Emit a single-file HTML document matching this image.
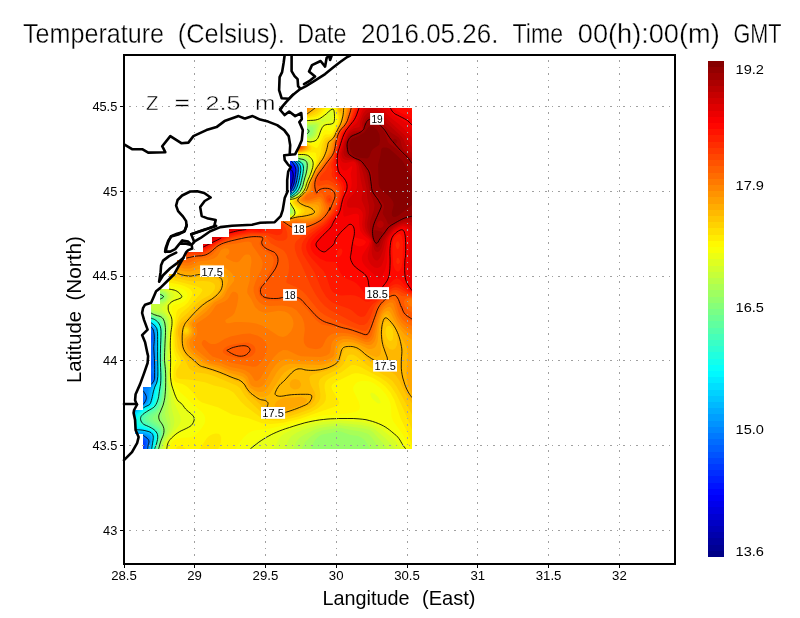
<!DOCTYPE html>
<html><head><meta charset="utf-8"><title>Temperature</title>
<style>html,body{margin:0;padding:0;background:#fff}svg{display:block}text{font-family:"Liberation Sans",sans-serif;fill:#000}</style>
</head><body>
<svg width="800" height="618" viewBox="0 0 800 618">
<rect width="800" height="618" fill="#fff"/>
<defs><clipPath id="cp"><polygon shape-rendering="crispEdges" points="307,108 412,108 412,449 143,449 143,434 135,434 135,410 143,410 143,387 151,387 151,304 160,304 160,289 169,289 169,274 177,274 177,260 186,260 186,252 203,252 203,244 212,244 212,237 229,237 229,229 281,229 281,221 290,221 290,161 298,161 298,146 307,146"/></clipPath></defs>
<g clip-path="url(#cp)">
<g transform="scale(.1)" fill-rule="evenodd"><rect x="1300" y="1000" width="2900" height="3550" fill="#000097"/>
<path fill="#0000a7" d="M1330 1060l2820 0 0 3450-2820 0zM2830 1823l2 17 13 7 4-7-4-15z"/>
<path fill="#0000b7" d="M1330 1060l2820 0 0 3450-2820 0zM2800 1783l-9 27 8 30 12 15 18 15 16 6 15 1 12-7 5-30-17-48-30-17-15 0z"/>
<path fill="#0000c7" d="M1330 1060l2820 0 0 3450-2820 0zM2791 1750l-15 15-8 30 12 45 27 30 23 14 30 6 15-3 15-32-4-60-7-15-19-19-30-16-15-2z"/>
<path fill="#0000d7" d="M1330 1060l2820 0 0 3450-2820 0zM2785 1720l-18 15-16 30-2 30 7 30 19 30 36 30 34 12 30 1 15-13 9-30 5-60-8-30-36-30-30-17-30-3z"/>
<path fill="#0000e7" d="M1330 1060l2820 0 0 3450-2820 0zM2785 1693l-30 21-20 36-3 30 10 45 18 30 40 33 45 16 30 1 12-5 16-30 16-75-2-45-72-53-30-9z"/>
<path fill="#0000f7" d="M1330 1060l2820 0 0 3450-2820 0zM2770 1677l-30 24-19 34-5 45 12 45 32 45 40 27 60 15 30-7 15-23 23-87 5-60-13-34-15 10-6-6 4-15-73-24-30 0z"/>
<path fill="#0008ff" d="M1330 1060l2820 0 0 3450-2798 0-7-23-15-11 0-837 22-119 6-60-5-30-8-15-15-12zM2770 1656l-30 20-15 15-16 29-8 45 4 30 10 30 32 45 42 30 56 16 30 1 15-5 19-27 26-85 7-65-7-59-15-8-30-2-60-22-30 2z"/>
<path fill="#0018ff" d="M1330 1060l2820 0 0 3450-2768 0 6-30-5-15-23-14-30-4 0-699 17-33 14-45 42-255-2-15-11-17-20-13-40-11zM2756 1645l-38 30-25 45-6 45 5 30 11 30 31 45 39 30 57 19 30 2 30-4 17-17 28-75 15-90 0-45-4-15-11-17-45-7-30-22-15-3-45 3z"/>
<path fill="#0028ff" d="M1330 1060l2820 0 0 3450-2747 0 12-45-10-26-30-10-45-2 0-621 38-46 20-45 22-165 32-165-4-15-18-17-32-13-58-9zM2754 1630l-44 31-28 44-7 30-1 30 17 60 31 45 48 36 60 18 30 2 30-5 21-21 25-60 19-105 1-45-6-27-15-16-30-4-16-13-3-15-11-3-60 1z"/>
<path fill="#0038ff" d="M1330 1060l2820 0 0 3450-2731 0 14-60-13-29-30-10-60 0 0-556 27-35 53-45 10-15 15-210 21-105 19-60-8-30-13-15-19-12-30-9-75-10zM2757 1615l-51 30-33 45-10 30-2 30 12 60 15 30 22 30 45 36 60 21 45 3 30-5 15-9 10-16 25-60 21-120 1-30-7-30-20-21-20-9-4-15-12-15-74 0z"/>
<path fill="#0048ff" d="M1330 1060l2820 0 0 3450-2718 0 14-60-4-30-7-9-30-14-75 0 0-438 6-49 17-45 22-26 30-21 60-27 10-16-17-45-6-30 9-75-5-60 19-120 23-60-3-24-11-21-34-30-45-11-75-8zM2727 1615l-47 37-15 23-12 30-3 60 18 60 18 30 24 27 46 33 59 17 45 1 30-4 15-9 14-20 26-60 21-120 2-30-6-30-51-60-21-8-90 1-35 7z"/>
<path fill="#0058ff" d="M1330 1060l2820 0 0 3450-2707 0 15-75 0-15-7-15-22-15-24-7-75 1 0-363 41-21 3-15-13-60 4-30 25-38 30-19 60-21 17-12 11-15 2-12-4-18-26-41-5-19 1-15 18-45 0-15-14-35-4-25 14-60 1-60 19-40 5-20-4-30-7-15-24-32-15-11-45-12-90-11zM2710 1610l-27 20-18 19-16 26-10 30-1 60 12 45 15 30 45 53 30 21 30 14 60 10 64-8 19-15 10-15 27-65 22-130-1-30-6-19-47-56-28-15-45-3-58 3-47 11z"/>
<path fill="#0068ff" d="M1330 1060l2820 0 0 3450-2697 0 15-75-1-30-17-16-30-16-90 0 0-329 65-14 23-15 1-15-33-75 3-30 8-15 23-19 75-33 23-23 8-15-1-32-30-58 26-60-4-30-20-30-2-15 15-45-4-75 15-30 6-30-3-30-11-30-33-39-30-9-120-18zM2704 1600l-24 15-28 30-17 30-9 30-2 30 5 45 26 60 21 30 30 30 52 30 27 8 45 4 45-4 25-8 27-30 29-75 20-120-1-30-10-27-45-51-15-11-30-8-90-2-45 9z"/>
<path fill="#0078ff" d="M1330 1060l2820 0 0 3450-2688 0 20-90-2-19-45-35-15-5-90 1 0-301 75-18 26-13 12-30-9-30-24-45-2-15 4-15 15-15 53-26 30-22 22-27 7-30-7-45-15-30 15-30 3-30-1-30-17-45 8-20 2-25-6-75 16-60-12-67-25-38-20-10-150-25zM2680 1600l-19 15-25 30-15 30-7 30-2 30 6 45 17 45 18 30 25 30 32 27 30 18 30 10 30 6 45-1 45-7 15-7 16-16 17-30 22-60 21-120-1-30-12-30-58-60-50-15-60-3-45 4-45 13z"/>
<path fill="#0087ff" d="M1330 1060l2820 0 0 3450-2679 0 23-105-7-15-52-36-15-4-90 1 0-274 90-28 25-19 15-30 4-30-3-15-27-45 11-15 50-35 30-31 18-24 4-30-5-75 2-90-11-150 12-75-10-75-18-30-15-15-172-34zM2665 1596l-22 19-22 30-13 30-7 30-1 30 7 45 18 45 18 30 52 55 60 32 30 7 45 1 45-6 30-10 29-34 30-75 21-120-1-30-11-30-56-60-27-14-30-6-60-6-45 3-45 11z"/>
<path fill="#0097ff" d="M1330 1060l2820 0 0 3450-2671 0 22-105-6-24-15-13-45-25-105-2 0-250 90-34 37-27 15-30 6-30-6-60 19-30 50-60 9-15 4-30-2-165-8-150 7-75-10-90-24-30-22-11-165-36zM2665 1581l-25 19-25 30-16 30-10 45-1 30 8 45 18 45 18 30 24 30 33 30 36 22 30 12 60 7 60-9 30-10 33-37 30-75 21-120 0-30-11-30-28-25-30-37-30-16-30-8-60-7-45 1-45 9z"/>
<path fill="#00a7ff" d="M1330 1060l2820 0 0 3450-2664 0 22-105-1-15-12-27-30-18-30-11-75 0-30-4 0-225 30-18 75-31 33-26 10-15 8-30 5-75 14-30 50-70 5-35-8-315 5-75-8-90-21-30-22-15-176-44zM2639 1585l-30 30-17 30-11 30-5 45 3 30 11 45 22 45 21 30 27 30 39 30 41 20 30 8 45 2 78-15 25-15 32-45 22-60 21-120 0-30-10-30-33-29-30-36-30-17-45-12-60-7-60 4-45 13z"/>
<path fill="#00b7ff" d="M1330 1060l2820 0 0 3450-2656 0 20-105-1-30-6-15-14-15-58-20-75 0-30-6 0-199 30-22 75-36 45-32 16-45 6-60 8-30 46-75 10-30-7-330 3-75-6-90-20-30-26-20-180-52zM2635 1573l-30 27-20 30-13 30-7 45 3 45 12 45 21 45 21 30 27 30 37 30 39 21 30 10 30 5 45-4 60-13 30-17 34-47 21-60 22-120 0-30-10-30-76-75-36-16-45-11-60-7-45 2-45 11z"/>
<path fill="#00c7ff" d="M1330 1060l2820 0 0 3450-2650 0 21-105 0-30-11-31-24-14-51-14-75-1-30-8 0-169 37-33 109-60 15-15 14-45 15-90 43-75 9-30-9-495-23-36-30-21-180-57zM2620 1568l-30 30-20 32-11 30-6 45 3 45 13 45 22 45 20 30 27 30 42 35 45 24 30 9 30 3 45-5 60-15 30-16 20-20 18-30 21-60 22-120 1-30-10-30-36-30-36-43-30-17-60-18-60-9-60 3-45 12z"/>
<path fill="#00d7ff" d="M1330 1060l2820 0 0 3450-2643 0 20-105 2-45-6-15-13-15-75-22-75-3-15-3-15-11 0-131 17-25 28-25 120-69 19-56 21-105 34-60 9-30-8-495-17-30-28-27-195-70zM2617 1555l-33 30-21 30-12 30-9 45 1 45 10 45 19 45 29 45 42 45 37 28 32 17 43 14 30 3 45-7 60-16 30-16 34-38 25-60 27-135 0-30-9-30-37-30-40-46-30-18-60-20-60-10-60 0-45 10z"/>
<path fill="#00e7ff" d="M1330 1060l2820 0 0 3450-2637 0 25-135 0-15-13-27-27-18-48-12-90-10-17-8-13-22 1-68 10-30 20-30 29-25 60-38 53-27 20-60 22-105 31-60 7-30-6-210 1-270-7-30-22-30-24-20-195-74zM2597 1555l-30 30-18 30-15 45-5 45 5 45 14 45 22 45 35 48 30 30 45 33 45 21 30 8 30 2 45-7 75-24 29-21 31-43 22-62 23-120 1-30-9-30-39-30-28-36-30-24-45-20-60-17-60-7-60 5-45 15z"/>
<path fill="#00f7ff" d="M1330 1060l2820 0 0 3450-2631 0 26-135-3-30-9-15-17-15-21-9-135-31-15-20-2-15 6-60 25-45 76-56 47-19 17-15 20-60 20-105 28-60 6-30-6-195 2-285-7-30-22-34-30-24-195-79zM2577 1555l-26 30-22 45-10 45 0 45 8 45 16 45 26 45 36 45 32 30 45 30 43 19 45 9 45-5 75-24 30-14 18-15 25-30 20-45 27-120 5-45-2-30-6-15-12-12-30-20-30-38-30-24-60-26-60-17-60-6-60 6-45 17z"/>
<path fill="#08fff7" d="M1330 1060l2820 0 0 3450-2625 0 28-135-2-30-8-15-18-18-30-14-110-28-19-15-7-30 3-45 12-30 12-15 64-47 60-27 14-16 21-60 19-105 28-75-6-210 5-285-14-45-21-30-16-13-210-92zM2575 1539l-30 32-25 44-12 45-2 45 6 45 21 60 25 45 36 45 41 37 45 30 45 19 45 8 45-6 90-32 37-26 25-30 20-45 32-150-1-45-8-18-12-12-33-21-30-38-30-23-60-28-60-19-60-8-60 4-45 15z"/>
<path fill="#18ffe7" d="M1330 1060l2820 0 0 3450-2619 0 29-135-1-30-7-15-13-15-29-19-120-40-12-16-6-30 1-30 13-30 19-20 45-32 73-38 12-15 21-60 15-90 23-75 5-30-8-195 6-285-12-45-15-26-19-19-136-60-85-44zM2560 1535l-31 35-23 45-11 45 0 60 15 60 20 45 28 45 40 45 37 32 46 28 44 18 45 7 45-6 90-35 24-14 33-30 30-60 30-135 1-60-5-15-13-15-40-24-30-39-30-23-60-29-75-25-60-7-60 6-45 16z"/>
<path fill="#28ffd7" d="M1330 1060l2820 0 0 3450-2614 0 32-135 0-30-6-15-12-15-25-19-120-47-17-24-4-30 6-30 23-30 52-36 51-24 20-15 32-75 36-195-8-195 7-285-4-30-14-32-15-23-15-12-120-53-105-59zM2551 1525l-28 30-25 45-13 45-3 60 12 60 17 45 36 60 43 48 45 37 45 27 45 18 45 7 45-7 94-40 25-15 33-30 29-60 30-135 2-60-5-15-12-15-46-28-30-39-45-32-75-34-60-18-60-6-45 5-53 17z"/>
<path fill="#38ffc7" d="M1330 1060l2820 0 0 3450-2608 0 5-30 21-60 7-45 1-30-4-15-10-15-22-18-45-25-80-32-12-15-7-30 6-30 18-23 54-37 66-35 9-10 27-60 34-210-10-195 9-300-21-60-29-30-105-45-124-74zM2605 1478l-45 23-43 39-28 45-17 60-2 60 13 60 25 60 29 45 38 45 54 45 52 30 59 20 30 4 30-4 135-62 37-33 29-60 30-135 3-60-9-22-15-14-43-24-32-41-30-23-105-51-60-17-45-5-45 3z"/>
<path fill="#48ffb7" d="M1330 1060l2820 0 0 3450-2602 0 5-30 21-60 11-75-3-15-12-19-30-24-45-26-60-25-15-13-10-28 7-30 12-15 66-45 55-30 37-75 29-195-10-210 10-300-18-60-24-30-130-60-114-76zM2527 1510l-37 45-21 45-10 45-1 60 13 60 26 60 40 60 43 45 55 43 45 24 45 17 45 6 45-8 60-34 45-17 57-46 28-60 28-120 6-75-12-30-55-30-37-45-45-32-75-39-75-25-60-6-60 7-50 20z"/>
<path fill="#58ffa7" d="M1330 1060l2820 0 0 3450-2595 0 4-30 21-60 13-60-1-30-18-30-18-15-108-60-15-15-4-30 7-15 57-45 62-35 17-25 26-60 25-195-11-210 12-300-16-60-20-30-23-15-103-45-47-30-85-65zM2590 1456l-45 23-38 31-25 30-23 45-12 45-3 45 4 45 17 60 30 60 31 45 42 45 52 41 45 27 60 23 45 7 45-9 60-38 52-21 55-45 28-60 28-120 7-60-2-30-18-24-48-21-27-33-30-28-60-38-60-31-45-16-60-12-60 3z"/>
<path fill="#68ff97" d="M1330 1060l2820 0 0 3450-2589 0 5-30 35-120 2-30-5-15-13-22-15-13-108-70-9-15 1-15 8-15 33-29 71-46 19-30 24-60 15-105 7-90-13-210 13-300-14-60-17-32-17-13-75-30-53-30-125-100zM2575 1448l-45 24-30 24-35 44-21 45-10 45-3 45 5 45 18 60 30 60 31 45 42 45 56 45 52 30 60 23 45 7 45-7 50-38 70-32 39-28 13-15 28-60 29-120 8-75-8-30-17-15-47-17-45-51-45-33-75-44-45-20-45-13-60-6-45 4z"/>
<path fill="#78ff87" d="M1330 1060l2820 0 0 3450-2582 0 4-30 41-135-1-30-12-26-15-17-88-62-11-15 0-15 21-30 48-33 26-27 30-60 9-30 14-105 5-90-3-105-11-105 14-300-16-75-21-30-77-31-53-29-40-30-102-93zM2575 1434l-45 21-45 36-28 34-23 45-12 45-3 60 9 60 14 45 30 60 32 45 41 45 55 45 50 31 60 25 60 12 45-5 56-48 64-28 45-32 12-15 28-60 30-120 9-75-6-30-13-16-60-22-33-37-42-35-75-49-60-30-45-15-60-7-45 3z"/>
<path fill="#87ff78" d="M1330 1060l2820 0 0 3450-2574 0 4-30 44-135 1-30-16-45-24-24-49-36-10-15-2-15 7-15 39-37 27-38 27-60 9-45 12-90 0-195-12-105 13-315-12-60-19-34-17-11-83-30-47-30-138-134zM2545 1431l-45 27-39 37-30 45-17 45-8 45 1 60 13 60 17 45 34 60 34 45 44 45 56 42 60 34 60 21 60 10 30-3 15-7 47-52 58-25 45-30 17-20 23-45 35-135 11-75-3-30-8-15-15-10-60-18-44-47-121-85-60-29-45-14-60-5-60 8zM1594 2965l6 13 15 5 7-3 7-15-14-11z"/>
<path fill="#97ff68" d="M1330 1060l2820 0 0 3450-2566 0 3-30 23-75 30-75-10-73-55-62-6-15 38-75 31-75 17-120 0-210-14-105 14-315-14-75-21-30-20-11-65-19-50-30-33-30-77-91-45-42zM3070 1288l-13 12-3 15 16 22 15 2 10-9 3-30-13-14zM2534 1420l-49 30-32 30-31 45-19 45-9 45-1 60 10 60 22 60 34 60 34 45 44 45 58 45 55 31 60 24 75 16 45-1 15-16 21-39 16-15 53-22 57-38 34-60 14-64 23-71 11-75-4-36-19-24-56-11-15-8-40-41-125-93-60-32-45-14-60-7-60 7zM2875 2095l6 15 9 6 15-1 0-13-15-11zM1576 2965l9 19 30 11 15-4 11-11 3-15-7-15-22-10-30 9z"/>
<path fill="#a7ff58" d="M1330 1060l2820 0 0 3450-437 0-52-90-21-24-28-21-33-15-74-11-105-36-180 31-27 16-32 30-21 30-19 45-10 45-1517 0 2-30 19-68 33-67 8-30-1-60-30-60-8-30 7-45 31-105 11-105-3-210-13-105 15-315-11-75-16-30-23-19-60-14-30-14-30-20-36-38-64-90-65-59zM3085 1265l-18 5-19 15-7 15 0 15 14 27 15 13 15 5 15-2 18-13 12-30 3-30-7-15-11-4zM2515 1413l-45 29-37 38-28 45-21 60-6 60 6 60 17 60 28 60 29 45 37 45 47 45 48 35 45 27 60 26 135 33 51 44 24 4 7-4 5-15-4-15-8-10-39-20-8-15 5-30 24-30 48-18 60-39 30-48 49-165 10-75-7-30-22-23-60-9-15-9-45-43-105-82-45-30-45-21-60-14-60-1-60 11zM1557 2950l-3 15 4 15 15 15 27 11 30-1 15-10 10-15 2-15-4-15-23-20-15-3-30 3-15 7z"/>
<path fill="#b7ff48" d="M1330 1060l2820 0 0 3450-338 0-94-135-30-30-18-11-61-19-89-12-120-25-180 27-61 25-62 45-46 45-25 45-15 45-1407 0 1-30 10-39 15-41 38-70 12-60-2-30-24-75-4-30 21-120 6-105-6-105 1-105-12-105 14-330-8-60-21-41-30-22-60-14-48-28-27-30-34-75-20-30-33-30-63-47zM3145 1249l-60 1-30 10-15 13-11 27 1 15 15 30 25 24 15 6 16 0 27-15 11-15 19-75-3-15zM2497 1405l-43 30-41 45-26 45-18 60-5 60 7 60 17 60 29 60 40 60 40 45 48 42 46 33 89 45 135 40 49 35 26 12 15 1 15-6 5-7-5-34-48-41-4-15 2-15 7-15 16-15 42-15 60-37 35-53 20-75 32-90 13-75-8-30-17-23-15-10-60-6-15-8-165-139-75-42-60-16-60-2-60 10zM1523 2950l-1 15 5 15 13 15 30 19 30 9 30-4 15-8 16-16 10-30-3-15-10-15-20-15-23-8-30-1-30 8-23 16z"/>
<path fill="#c7ff38" d="M1330 1060l2820 0 0 3450-258 0-45-60-117-127-30-22-75-18-225-31-150 18-60 12-51 18-94 45-46 30-28 30-24 45-19 60-1312 0 0-30 14-53 55-97 16-45 5-30-3-45-20-90 6-210-10-105 1-105-10-105 14-360-9-45-15-28-15-17-30-21-60-17-30-16-20-21-8-30 13-17 15 0 60 19 15 1 30-7 34-26 19-30 3-15-2-15-8-15-15-15-46-24-60-2-75 24-30 0-45-18-75-45zM3160 1234l-90 6-30 14-14 16-9 30 8 30 15 22 30 29 15 7 15 1 30-13 16-16 14-30 18-75-5-15zM2485 1393l-55 42-35 43-25 47-16 60-4 60 8 60 18 60 29 60 40 60 40 45 50 45 55 38 90 44 135 45 62 38 28 5 21-5 8-15-13-45-37-30-7-15-1-15 6-15 18-15 35-11 60-36 14-13 27-45 20-75 35-90 14-75-7-30-22-30-21-13-60-3-15-8-165-143-45-30-45-19-60-13-60 0-60 11z"/>
<path fill="#d7ff28" d="M1330 1060l2820 0 0 3450-187 0-53-71-65-64-88-75-53-30-94-20-210-21-150 14-75 13-147 44-63 27-48 33-26 30-15 30-27 90-1218 0 1-45 13-42 70-108 19-45 10-45-4-45-23-90-16-195-14-90 1-105-6-135 13-345-5-30-14-30-54-60-8-15 5-15 41-37 32-38 13-30-1-15-7-15-14-15-38-27-30-13-45-9-120 2-45-13-75-37zM3213 1210l7 6 15-5 7-16-22-4zM3190 1225l-45-4-75 6-30 12-19 16-15 30 3 30 15 30 46 48 15 7 30-2 30-17 15-17 39-124zM2470 1383l-49 37-38 45-30 60-15 60-2 60 8 60 25 75 32 60 44 60 43 45 54 45 63 40 75 35 120 40 75 41 30 6 30-9 9-18-16-45-33-30-9-15-3-15 4-15 18-14 30-9 64-37 15-15 28-45 20-75 38-90 14-60 1-30-14-30-28-30-18-8-60 0-15-7-72-60-108-100-45-28-30-12-60-13-75 1-60 13z"/>
<path fill="#e7ff18" d="M1330 1060l2820 0 0 3450-125 0-63-90-27-30-112-90-93-52-120-29-210-13-150 10-135 21-118 33-81 30-62 30-42 30-24 30-38 75-51 45-1050 0 0-45 15-45 26-39 100-126 19-45-5-45-60-135-49-225-2-360 5-105 12-105-8-60-38-60-11-30 10-30 65-75 9-15 2-15-6-15-18-15-100-59-45-12-135-14-45-15-60-29zM3325 1126l-15-7-30 4-20 42-10 6-30 6-30 27-15 6-105 6-45 19-20 20-11 30 4 30 17 30 40 45 30 20 30 0 43-20 19-30 24-75 19-37 30-21 56-17 13-15 8-30zM2455 1373l-45 34-45 55-24 48-17 60-4 60 10 75 26 75 33 60 44 60 42 45 53 45 62 41 75 36 135 47 75 38 30 5 30-5 15-12 5-15-21-45-40-45-4-15 3-15 112-60 42-60 15-60 40-90 21-75 4-30-12-30-45-44-30-4-45 3-15-6-67-54-113-114-30-20-45-20-60-13-75-1-75 17z"/>
<path fill="#f7ff08" d="M1330 1060l2820 0 0 3450-79 0-86-146-135-109-120-51-135-25-195 1-150 7-150 22-150 43-150 48-112 45-108 60-65 51-26 24-20 30-796 0-3-30 4-30 13-30 18-27 75-62 105-43 45-26 15-22 13-30 3-30-16-30-75-61-45-59-45-31-30-59-45-135 5-210-6-150 4-105 16-105-4-60-37-75 0-30 7-19 30-32 15-8 64-16 26-12 9-18-3-15-13-15-47-30-81-20-45-31-30-14-45-13-135-25-105-42zM3333 1090l-8-6-15 2-45 32-16 32-74 47-120 11-30 13-24 19-18 30-2 15 6 30 18 30 57 60 23 14 15 4 60-13 15-14 12-21 32-90 16-24 15-11 15-2 45 12 15-6 15-20 9-39-7-90zM2443 1360l-48 37-43 53-30 60-14 60-3 60 11 75 27 75 33 60 44 60 50 53 60 49 60 37 60 30 135 48 90 41 30 4 36-7 20-15 6-15-25-45-39-45-5-15 2-15 80-40 30-20 42-60 16-60 41-90 27-90 0-30-6-16-41-44-19-10-75 4-30-15-61-54-89-102-45-33-45-19-75-15-75 2-75 19zM3715 3926l-13 14 10 30 18 25 45 38 15 3 15-6 0-15-24-45-36-32z"/>
<path fill="#fff700" d="M1330 1060l2820 0 0 3450-40 0-80-166-99-134-17-45-3-90-8-45-19-45-27-45-52-57-63-48-42-20-60-8-30 3-32 10-22 15-21 30-4 15 4 30 51 105 14 45-5 30-14 15-31 15-75 16-240 16-135 29-105 34-195 48-90 19-180 25-45 22-45 42-52 64-45 75-639 0-3-30 4-30 15-28 18-17 57-26 90-4 30-5 30-16 30-25 39-44 29-45 9-30 0-30-10-30-22-30-89-75-61-63-60-51-45-50-30-41-15-32-3-18 3-105 11-90-14-135 1-105 19-120 2-60-23-90 4-17 15-15 75-20 38-23 13-15 13-30 2-15-6-23-15-19-15-11-45-20-90-16-105-50-165-39-105-42zM3340 1073l-15-10-15-1-15 6-39 37-21 33-60 43-120 16-30 11-27 17-18 20-12 25 1 30 14 30 72 77 30 20 30 8 30 1 30-11 16-20 44-94 15-11 15 1 30 11 15-2 15-13 30-52 10-35 0-30-12-75zM2440 1341l-60 46-40 48-31 60-16 60-4 60 10 75 24 75 40 75 44 60 58 60 56 45 69 43 75 35 105 36 105 45 45 2 30-11 23-15 7-15-5-15-63-75-6-15 3-15 26-10 80-50 42-60 16-60 42-90 30-90 4-30-6-30-13-17-45-30-30-2-60 7-30-14-55-49-95-120-30-24-45-21-75-18-75-2-75 14z"/>
<path fill="#ffe700" d="M1330 1060l1940 0-60 75-35 26-30 10-90 15-45 17-30 20-15 17-14 30 2 30 30 45 87 82 90 52 15-5 60-114 15-14 45 0 15-5 15-13 45-86 9-32 0-30-24-104-8-16 803 0 0 3441-30-51-45-125-71-145-60-180-41-75-50-60-55-45-68-40-90-35-60-12-30 0-30 7-163 80-32 22-11 23 7 30 70 120 1 15-7 15-19 15-371 130-165 38-120 13-90-8-135-50-165-39-136-69-164-51-37-24-67-90-47-45-44-26-60-13-15-10-15-26-1-75 8-45 27-60 1-15-20-45-15-60-5-135 35-235 15-27 60-34 38-34 37-60 9-30-2-15-22-30-57-30-49-15-89-17-105-42-180-49-90-38zM2425 1329l-60 46-37 45-32 60-20 75-2 75 14 75 28 75 43 75 47 60 64 62 75 54 75 41 255 97 30 3 30-5 49-27 9-15 0-15-60-60-17-30 8-15 71-41 24-19 42-60 16-60 43-90 39-105 7-45-6-52-15-8-75 1-60 10-30-3-30-20-34-33-34-45-37-63-30-35-45-28-45-16-75-14-75 1-75 15zM2200 4347l12 28-2 45-15 45-28 45-200 0 38-31 60-95 25-24 35-17 30-8 30 2zM1762 4480l18-20 30-1 84 51-130 0z"/>
<path fill="#ffd700" d="M1330 1060l1912 0-37 47-30 28-30 16-105 28-45 18-38 28-12 15-14 30 2 30 20 30 156 135 6 15-2 15-17 15-86 21-30-4-30-19-41-43-27-45-33-75-29-30-35-20-60-20-45-9-60-5-60 3-60 12-60 23-45 27-42 34-33 38-30 49-19 48-10 45-5 60 6 60 11 45 22 60 22 45 39 60 37 45 79 75 103 68 90 42 195 71 30 6 45-6 64-31 12-15 4-15-7-15-60-45-15-15-5-15 29-30 67-45 41-60 17-60 43-90 74-180 20-105 16-45 15-22 13-8 47-12 15-12 57-111 9-30 1-30-22-72-8-48 788 0 0 3331-52-151-85-195-52-105-50-75-44-45-66-45-191-102-60-24-30 1-15 6-90 66-107 53-42 30-11 15-9 30 0 30 14 75-3 45-16 30-15 15-51 39-60 33-132 48-108 28-75 11-60 2-60-5-45-13-30-15-151-113-46-45-72-90-51-30-55-19-90-21-90-32-165-28-90-6-28-14-9-30 6-45 40-60 7-30-9-30-37-63-15-62-5-130 20-91 20-59 25-43 75-63 121-134 18-30-6-15-13-9-51-21-249-65-105-35-135-38-135-53z"/>
<path fill="#ffc700" d="M1330 1060l1885 0-40 44-46 31-44 20-82 25-38 20-45 40-25 45-3 15 7 15 96 61 98 89 3 15-5 15-25 15-71 16-30-12-24-19-25-30-18-30-15-45-7-75-20-15-56-23-60-18-60-11-60-5-75 5-60 13-59 24-46 27-45 38-34 40-27 45-23 60-9 45-3 60 7 60 16 60 25 60 25 45 41 60 39 45 93 82 105 63 90 39 180 63 30 5 45-7 56-20 32-15 18-15 7-15-6-15-17-15-75-45-7-15 21-30 61-41 37-49 23-71 39-79 21-55 77-140 28-135 15-20 60-32 15-22 52-106 10-30 3-45-28-60 0-45 773 0 0 3157-36-82-144-263-45-62-45-36-204-119-111-91-30-17-30-3-15 5-15 12-39 79-36 38-45 28-117 54-36 30-9 15-7 30 18 105-2 45-13 30-40 45-49 30-120 45-90 28-60 11-60 1-60-7-45-12-39-21-141-134-39-46-47-75-34-25-227-95-73-22-105-16-45-19-23-18-37-75-60-95-17-40-18-135 3-45 8-30 18-45 21-32 75-69 75-79 60-48 75-40 30-26 23-36 3-30-6-15-14-15-36-14-60-5-120 1-75-13-360-100-75-26-75-34zM3880 3260l-15 9-5 11-5 30 3 30 7 27 15 29 15 13 15 2 14-11 6-15 3-45-8-51-15-20-15-8zM1855 3282l-15 12-1 16 16 18 15-3 9-15-2-15-7-9z"/>
<path fill="#ffb700" d="M1330 1060l1858 0-31 30-61 45-26 13-99 32-111 72-45 1-120-22-90-6-90 9-90 29-75 47-51 50-40 60-28 75-7 45-2 60 8 60 16 60 26 60 25 45 42 60 39 45 92 82 105 65 105 45 180 60 30 6 165-41 52-22 8-13-10-17-65-28-75-42-4-5 0-15 11-15 61-45 42-60 11-45 61-135 92-150 33-135 53-38 15-19 35-78 27-45 11-30 7-60-7-15-13-8-15-22 0-21 9-24 756 0 0 3023-90-141-67-137-38-55-30-22-90-31-50-27-100-67-105-96-45-19-60-2-30 11-15 25-30 103-15 18-60 37-60 24-136 41-27 15-7 15-1 15 9 45 12 30 30 52 11 38-10 45-34 45-27 16-150 58-75 22-30 4-45-3-60-11-45-15-30-18-47-53-118-106-22-29-38-67-15-16-90-33-150-65-90-30-90-20-15-10-45-47-75-65-47-82-13-75-15-54 0-49 15-43 15-23 60-49 123-127 59-45 60-30 53-45 37-60 1-45-3-15-15-21-60-26-120-2-105 14-60-10-75-24-120-28-150-43-90-32-75-34zM3865 3211l-15 6-16 33-8 75 9 66 11 39 19 32 30 28 30 7 15-4 15-12 15-32 5-49-9-60-16-45-25-42-30-27zM1855 3266l-22 14-7 30 2 15 10 15 17 8 15-3 15-11 10-24-10-30-15-13zM2905 1365l15-9 15 0 30 10 45 29 71 70 2 15-9 15-28 15-36 10-30-3-15-8-32-29-27-45-8-45z"/>
<path fill="#ffa700" d="M1330 1060l1831 0-91 74-100 31-95 48-30 10-45 2-135-17-75-2-90 11-75 24-75 42-60 55-47 67-28 75-9 45-3 60 7 60 15 60 24 60 33 60 42 60 39 45 46 45 56 45 110 67 120 49 165 53 30 5 75-19 90-7 64-13 26-10 15-20 1-30-16-20-105-25-45-23-21-22 7-15 44-32 48-58 9-15 16-60 62-132 94-138 23-60 12-60 51-58 33-77 38-60 12-30 14-60 10-75-4-15 707 0 0 2914-36-49-34-75-10-45-6-75 15-180-9-75-96-180-71-105-23-41-15-6-15 5-10 12-27 75-10 105 8 165-6 35-15 22-30 7-45-13-45-24-75-56-60-23-60-5-45 9-15 11-12 22-10 60-22 60-31 25-45 23-75 22-90 6-150-15-45 7-45 18-45 29-30 32-117 183-33 22-30 8-45-5-45-23-45-30-34-47-26-53-15-16-120-40-120-52-165-52-22-12-124-105-33-60-7-30 5-45 6-15 42-30 21-30-1-30-32-60 4-15 51-62 75-73 72-60 90-60 32-30 35-60 8-75-12-27-19-18-86-31-120 1-105 23-60-6-75-24-120-27-135-39-90-32-90-41zM3400 1084l15-2 8 8-1 15-7 5-15-1-3-19zM2920 1381l15-8 15 0 45 19 66 58 10 15 0 15-16 17-45 17-30-2-15-8-26-24-25-45-4-30zM2950 3790l30 7 15 11 15 27 1 15-5 15-12 15-14 9-30 6-15-2-22-13-12-15-5-30 16-30 23-13zM3070 4000l-4 15-13 15-28 18-165 57-30 2-30-7-30-15-22-25 0-15 17-30 35-23 45-17 90-1 75-7 52 18z"/>
<path fill="#ff9700" d="M1330 1060l1807 0-68 60-104 32-120 44-60 4-135-13-75 0-90 13-75 25-78 45-64 60-49 75-26 75-8 60 1 60 9 60 19 60 26 60 36 60 45 60 41 45 93 80 60 39 60 33 120 48 195 56 75-19 90 2 60-8 45-19 26-32 5-15 1-30-5-15-12-16-15-4-105-4-45-19-21-17 5-15 35-30 53-60 18-66 60-128 90-122 33-59 13-30 13-60 39-60 30-75 51-75 31-116 3-49 687 0 0 2389-30-49-75-56-75-95-34-59-26-56-15-19-15-7-15 2-30 22-15 25-15 43-11 50-18 165-16 44-15 19-30 13-30-2-105-48-45-16-60-7-45 5-30 16-16 21-9 30-5 60-15 33-30 27-30 15-60 19-45 5-285-11-45 9-30 14-30 23-30 35-75 131-30 42-30 22-30 7-30-4-30-11-45-29-19-27-26-60-30-26-120-34-120-52-105-27-60-32-105-83-36-46-12-30-4-30 8-30 41-45 13-30-3-30-20-45-2-15 6-15 39-44 152-136 43-35 60-38 17-17 28-45 35-90 0-30-12-30-30-30-38-20-45-13-60-11-60 0-45 8-90 27-60-3-315-83-105-39-90-42zM2935 1390l30-3 45 22 42 41 9 15-2 15-14 15-35 14-30-3-15-8-31-33-12-30 2-30z"/>
<path fill="#ff8700" d="M1330 1060l1786 0-31 33-30 19-210 59-60 5-150-10-75 2-90 14-75 26-80 47-64 60-49 75-19 45-11 45-8 60 3 60 10 60 19 60 28 60 36 60 45 60 41 45 48 45 58 45 63 40 60 32 120 47 195 55 75-19 90 11 60-8 55-23 18-15 20-30 10-45-13-48-15-18-75 14-45 2-45-13-18-12-1-15 64-67 28-23 7-60 56-120 111-150 28-45 12-30 12-60 31-62 21-58 62-90 31-105 8-60 673 0 0 2307-90-57-45-42-45-63-45-104-15-25-15-9-15 2-30 17-15 15-26 44-28 90-25 150-12 30-14 18-15 11-15 6-30 0-150-54-45-7-45 2-45 19-20 20-17 45-5 75-18 22-45 24-45 13-45 6-105-5-90 3-105-25-30 1-30 8-45 25-30 29-45 64-64 120-26 28-30 12-45-4-30-15-15-20-21-61-11-15-28-22-45-17-90-18-105-46-105-23-41-24-100-75-41-45-15-30-6-30 7-30 37-45 9-30-4-30-20-45 2-15 22-27 120-96 79-87 71-38 25-22 37-75 59-75 7-15-2-30-17-30-34-34-45-31-45-16-90-17-75-1-45 9-90 35-60 0-306-80-99-37-105-50zM2935 1411l15-12 15-2 30 10 30 23 18 20 8 15-3 15-17 15-21 8-15 1-26-9-18-15-17-30-3-15z"/>
<path fill="#ff7800" d="M1330 1060l1766 0-26 27-30 14-180 44-75 7-150-7-90 3-90 16-90 33-45 26-45 34-42 43-33 45-24 45-16 45-11 45-5 60 3 60 16 75 22 60 30 60 39 60 48 60 59 60 64 53 120 74 75 35 90 32 120 29 60 20 75-18 90 18 60-8 59-25 36-30 28-45 4-15-4-30-18-51-15-22-15-4-75 23-45 5-41-11-8-15 49-56 31-19 11-15 2-60 56-120 140-188 15-37 15-75 41-105 67-90 28-90 14-75 660 0 0 2259-75-39-60-52-42-68-39-120-9-12-15-4-15 2-30 16-30 27-30 47-36 104-33 150-17 30-19 15-15 5-30 0-105-42-60-15-60-3-45 8-33 17-27 30-12 30-8 60-11 30-29 19-60 15-195-6-37-13-98-48-45-2-45 24-45 46-51 70-84 142-26 23-19 5-15-7-25-43-25-30-40-26-45-15-105-19-105-42-90-17-27-16-108-87-30-34-15-44 3-15 28-45 11-30 1-30-15-60 8-15 91-60 37-30 25-30 36-56 15-14 75-30 28-20 13-15 24-45 15-15 10-3 20 3 19 15 7 15 2 30-13 75-25 75-25 31-60 33-8 11 8 22 15 6 15 0 60-12 60-2 90 6 60 11 60 20 45 23 120 81 45 10 30-9 15-10 37-41 19-45 4-30-4-30-11-30-23-30-22-17-28-13-62-8-105 17-45 0-45-16-40-38-36-75-39-60-3-15 2-30 24-90 4-105 13-75-4-45-11-22-13-8-29 0-18 10-45 54-15 10-15 3-30-5-58-27-19-15 0-15 23-15 9-12 4-18-3-15-14-15-32-3-35 18-36 60-34 26-60 17-90 10-75 37-45 8-60-8-255-66-120-45-105-53zM2944 1420l21-12 15 1 30 15 25 26 6 15-4 15-21 15-21 4-30-13-18-21-6-15z"/>
<path fill="#ff6800" d="M1330 1060l1744 0-19 17-30 12-165 33-75 7-165-7-90 5-90 17-90 35-45 26-47 35-43 44-30 40-28 51-17 45-11 45-7 60 2 60 15 75 21 60 37 75 39 60 49 60 58 60 67 56 60 41 75 41 150 62 135 31 60 23 30-2 45-10 60 19 30 3 75-16 60-30 28-23 45-60 5-15-7-30-34-75-22-21-30 2-90 28-30-3-10-6 3-15 22-25 45-27 6-8 5-15-3-45 7-30 41-90 138-180 27-60 12-75 37-104 15-23 49-53 8-15 28-90 17-75 648 0 0 2214-75-34-45-38-30-42-13-30-30-105-8-15-19-15-20-1-45 19-43 42-17 22-38 98-51 180-16 26-15 10-15 3-30-4-90-39-75-19-60-5-60 3-45 15-33 25-21 30-28 60-23 22-45 10-60-9-21-8-21-15-18-30-3-45 11-90-6-60-14-45-16-30-47-57-45-28-60-16-45-3-120 4-60-10-45-28-31-42-22-60-1-45 20-60 64-135 8-45-6-30-15-30-83-120-11-30-28-9-30 1-105 21-105 11-60 30-60 65-45 28-30 9-90 9-52 30-23 7-45-2-60-10-195-49-135-50-120-62zM4090 2998l-12 12-3 15 5 15 10 15 15 10 15 3 15-3 10-10 4-15-12-30-21-15-11-2zM2950 1433l15-15 30 4 31 28 6 15-6 15-16 10-15 3-15-3-15-10-11-15-5-15zM2671 3490l-17 60-24 45-25 35-30 28-15 7-30 3-210-37-195-66-34-30-52-60-19-27-3-18 6-15 12-14 15-1 38 30 22 10 45 0 30-13 60-38 60-24 120-26 75-3 74 19 50 30 35 45 10 30z"/>
<path fill="#ff5800" d="M1330 1060l1712 0-62 19-150 23-225-2-105 8-90 20-75 31-45 26-53 40-44 45-32 45-25 45-22 60-10 45-5 60 4 60 16 75 21 60 30 60 38 60 46 60 56 60 68 60 62 45 60 37 135 62 90 31 105 19 75 40 60 2 30 11 30 2 45-7 60-21 75-39 21-17 64-75 7-30-4-15-38-45-20-63-15-24-15-1-45 18-20-5 6-45-6-45 6-45 36-75 143-188 20-52 15-90 31-90 69-77 35-103 19-75 636 0 0 1935-30-15-42 0-28 15-10 15-3 15 14 45 24 28 45 26 30 2 0 93-30-6-30-14-30-21-30-30-30-70-23-83-19-30-18-9-82 39-68 70-90 258-15 32-15 10-15-1-75-34-90-29-270-56-30-19-30-27-98-114-52-55-30-22-30-8-90-5-90 10-90-2-45-11-30-22-12-20-9-45 3-30 67-90 58-90 20-45 6-45-6-30-8-15-15-15-74-47-30-35-9-23 1-15 14-30-6-16-105-5-240 52-90 42-45 46-60 41-60 12-60 2-60 19-30 4-45-2-60-8-165-43-135-53-120-65zM2962 1435l18-8 15 4 15 10 12 24-8 15-19 6-20-6-13-15-4-15zM2555 3490l-3 30-22 30-30 20-45 12-75 1-105-29-35-19-11-15-1-15 17-26 32-19 51-15 127-21 30 3 39 18 21 20z"/>
<path fill="#ff4800" d="M1330 1060l1638 0-153 19-210-3-90 5-105 22-90 35-60 36-45 36-43 45-33 45-25 45-22 60-13 60-4 60 5 60 13 60 20 60 29 60 36 60 45 60 100 105 102 79 135 75 150 59 120 23 42 34 48 55 15 10 30 7 45-12 135-66 75-43 82-86 53-103 12-47 1-45-8-30-20-27-30-20-30-8-30 1-60 14-15-4-8-16-5-30 28-64 47-56 88-123 28-72 15-90 29-90 70-75 29-75 30-105 624 0 0 1918-45-13-90-6-36-24-24-10-30 5-75 51-75 73-60 163-30 63-15 19-15 10-30-2-208-72-167-82-45-34-35-34-115-142-30-30-45-32-112-51-6-15 24-90 5-60-6-60-20-60-20-30-16-15-119-65-43-55-19-15-43-8-90-3-165 32-105 31-75 36-60 52-60 37-45 11-60-3-105 13-45-1-60-9-150-41-135-57-120-68zM2980 1438l15 2 15 17 0 12-15 11-15-5-9-10-3-15zM3280 1952l15-1 15 9 11 15 4 15-9 30-21 11-21-11-12-30 3-24z"/>
<path fill="#ff3800" d="M1330 1060l1155 0-105 25-105 48-84 62-65 75-28 45-20 45-23 90-4 90 19 105 35 90 43 75 68 90 72 75 62 54 60 45 120 69 165 70 45 12 60 8 30 11 24 31 17 45 4 45-4 15-11 14-30 13-45 0-30-8-75-43-30-10-150-4-150 29-90 28-90 43-75 55-60 34-30 8-60-5-120 4-105-14-135-40-132-59-123-73zM4150 1060l0 1904-105-26-75-37-30 0-15 5-30 20-134 114-20 30-41 110-30 50-30 21-45-1-69-30-226-120-50-38-49-52-42-60-50-90-93-210-46-90-19-60-4-30 2-30 15-30 70-60 62-45 143-90 71-77 45-76 16-42 15-75-3-45-12-30-31-35-45-30-30-6-60 11-10-15 10-32 52-58 39-75 37-60 27-75 16-90 24-81 75-84 32-75 31-105zM2995 1455l3 10-13 0zM3295 1981l10 9-2 15-8 5-8-5-4-15z"/>
<path fill="#ff2800" d="M1330 1060l1041 0-96 41-75 49-75 73-51 77-36 90-14 90 5 90 22 90 39 90 57 90 76 90 77 75 110 84 105 61 195 87 97 23 14 15 5 15-1 30-10 17-15 11-30 5-90-23-90 1-75-4-165 29-75 24-105 52-120 77-30 11-30 3-195-11-60-10-75-20-75-27-90-41-88-49-77-50zM4150 1060l0 1892-75-22-90-53-30-4-30 8-30 20-75 71-92 68-25 30-48 82-15 13-30 6-30-13-60-52-30-18-120-42-45-22-38-29-28-30-45-75-68-165-115-180-17-60 5-45 23-45 41-45 152-110 26-25 76-90 33-64 27-101 5-60-7-30-10-20-66-85-3-30 7-30-10-30-1-30 28-67 22-68 44-180 8-15 46-46 22-29 36-75 34-105z"/>
<path fill="#ff1800" d="M1330 1060l963 0-81 45-72 58-55 62-46 75-28 75-15 90 3 90 21 90 38 90 45 75 58 75 85 90 86 75 78 56 90 52 119 57 52 30 33 30-4 15-94 30-91-7-150 26-60 16-150 75-105 63-30 12-30 3-195-19-60-12-75-22-77-30-91-45-76-45-86-59zM3566 1060l584 0 0 1879-61-19-89-69-30-10-30 4-30 16-30 25-40 49-35 30-75 38-45 15-30-3-60-43-45-17-45-4-90 3-45-9-42-25-22-30-46-135-24-45-121-127-30-41-19-42-5-30 4-30 21-45 41-45 138-112 79-98 33-60 37-135 7-60-14-45-45-60-14-30-3-45-10-45 0-30 80-299 60-68 42-68 14-30zM3970 2412l-13 28-1 15 14 38 15-4 12-34 0-15-12-26zM3970 2581l-8 39 8 18 15 3 15-21-2-15-13-25z"/>
<path fill="#ff0800" d="M1330 1060l897 0-72 48-62 57-57 75-38 75-23 75-10 90 5 75 23 90 32 75 44 75 56 75 68 75 97 89 90 70 90 56 155 85 13 15 3 15-10 15-26 15-60-9-30 1-150 28-60 15-30 13-225 125-30 11-30 3-195-26-75-19-66-22-84-37-75-40-90-58-75-56zM3582 1060l458 0 110 65 0 1801-30-5-26-16-94-108-30-15-30 14-60 56-30 34-31 49-14 12-30 13-45 11-30 0-15-5-38-31-52-70-30-31-30-18-75-30-30-22-28-39-47-103-15-5-75-3-60-24-60-48-22-27-14-30-3-45 13-30 39-45 122-111 93-129 14-30 27-105 24-75 4-45-14-45-46-60-15-30-14-90 13-105 61-210 51-60 53-75 14-30zM4000 2340l-15 1-15 7-31 32-10 30-6 90 9 150 17 45 21 21 15-2 15-14 15-29 10-51 5-195-15-70zM3415 2488l-15-3-21 15-12 30 3 36 15 6 15-10 15-18 10-29-2-15z"/>
<path fill="#f70000" d="M1330 1060l836 0-71 57-59 63-40 60-35 75-21 75-8 75 5 75 21 90 31 75 43 75 55 75 67 75 151 137 90 67 126 81 37 30 8 15-96 32-105 17-75 22-78 49-162 82-30 11-30 3-195-33-75-22-68-26-82-40-85-50-155-117zM3602 1060l327 0 32 45 129 66 60 51 0 1688-30-5-14-15-38-60-21-60 1-165 10-60 0-135-11-90-7-15-10-9-15-1-49 25-52 60-17 120 4 105-4 135-29 75-38 45-25 60-15 11-60-1-18-10-21-45-9-75-12-32-22-28-65-45-48-40-30-60-3-20 18-105 15-45 5 15 17 15 38 11 30-8 15-9 20-24-4-15-25-15-81-20-13-115-17-24-15-1-15 8-90 89-45 59-13 49-92 83-15 1-45-26-30-28-6-15 6-24 29-36 121-120 28-60 59-90 6-15 20-105 45-105 4-60-31-60-41-35-15-25-13-75 2-105 66-210 108-135z"/>
<path fill="#e70000" d="M1330 1060l778 0-66 60-50 60-38 60-33 75-18 75-7 75 6 75 18 75 29 75 33 60 41 60 49 60 71 75 102 94 90 75 135 101 11 15 2 15-10 15-27 15-96 20-60 20-100 65-155 72-30 6-30-1-180-38-72-24-78-34-76-41-74-48-76-57-89-77zM3627 1060l237 0 61 87 131 78 94 97 0 1566-15-6-17-22-20-45-10-45-11-150 11-75 2-180-6-45-17-30-22-14-15-3-30 8-45 27-49 57-17 45-13 90-5 120-18 75-33 67-15 15-15 7-15-2-121-117-22-30-12-30-2-30 9-30 58-93 13-42-13-17-53-43-31-45-11-60 0-90-10-12-15-5-30 3-90 27-12-13-2-90 10-60 19-39 36-51 17-45 4-45-10-90 15-60-2-14-15 6-30 31-15 7-30-3-12-12-18-36-16-84 0-30 69-210 52-66 52-54 16-30 34-90z"/>
<path fill="#d70000" d="M1330 1060l721 0-60 60-47 60-34 60-31 75-15 60-7 75 4 75 17 75 22 60 30 60 38 60 47 60 115 120 270 240 16 30-6 15-120 51-98 69-95 45-77 28-60-1-90-21-90-27-75-31-74-38-72-45-81-60-148-134zM3666 1060l132 0 37 34 60 73 111 88 62 60 82 102 0 1421-20-53-15-120-2-45 10-90 7-150-4-45-20-45-31-25-45-9-45 16-47 33-43 52-19 38-35 195-21 58-15 19-15 9-15 4-30-6-30-21-15-17-21-46-2-30 4-30 33-120-14-23-48-52-24-45-7-45 8-90-5-30-14-25-30-21-30-4-60 3-15-11-6-17-2-15 8-31 15-21 54-53 23-45 3-30-4-195-10-30-17-15-20 0-59 15-30-5-15-15-15-34-4-21 4-30 60-184 17-26 43-46 45-35 15-24 43-105 17-23z"/>
<path fill="#c70000" d="M1330 1060l663 0-56 60-43 60-32 60-29 75-14 60-7 75 6 75 13 60 21 60 29 60 38 60 47 60 100 105 201 180 59 60 20 30 3 15-4 15-14 15-71 48-71 57-79 39-90 29-45 1-45-8-90-27-75-29-70-35-75-45-63-45-72-60-155-155zM3715 1080l45 8 45 32 71 75 169 156 29 39 40 75 36 32 0 793-15-18-30-21-45-12-30 1-30 9-60 37-33 34-41 60-12 30-21 90-28 71-15 22-15 11-15 1-15-10-15-20-10-30-4-45 7-90-8-20-49-70-16-45-3-45 10-75-1-45-7-30-31-75-1-30 13-75-20-90-22-150-13-30-25-27-90-4-15-4-15-11-10-14-7-30 29-120 33-81 30-34 30-21 60-14 7-60 30-75 23-29 15-12z"/>
<path fill="#b70000" d="M1330 1060l602 0-39 45-43 60-34 60-25 60-18 60-11 75 0 60 7 60 21 75 27 60 35 60 45 60 99 105 237 210 52 60 12 30-6 30-25 30-85 75-86 43-45 14-45 7-45-4-45-11-126-49-107-60-117-90-108-105-127-146zM3715 1120l30 7 30 18 235 215 23 30 44 105 73 58 0 683-45-15-60-1-60 21-45 28-39 36-43 60-24 45-22 75-22 29-15 7-15-4-15-18-9-29-5-60-44-90-14-45-1-45 18-105 1-60-19-90-7-90-33-150-30-90-22-30-30-20-75-17-18-8-15-15-8-30 19-105 17-45 18-30 17-18 30-17 82-10 7-15-5-30 2-30 19-57 30-35 15-8z"/>
<path fill="#a70000" d="M1330 1060l539 0-49 60-40 60-31 60-23 60-16 60-10 75 1 60 9 60 17 60 28 60 37 60 35 45 104 105 250 210 43 45 21 30 9 30-1 15-13 30-38 45-47 39-40 21-50 17-45 8-30 0-45-8-52-17-123-60-106-75-96-90-90-105-148-194zM3700 1161l30 6 30 18 98 85 52 55 76 50 20 30 12 60 16 30 116 120 0 578-60-2-45 8-60 24-60 38-34 29-66 90-15 30-13 45-7 11-15 9-15-6-8-14-12-45-15-30-25-90-2-45 3-30 39-120 5-45-12-45-33-75-34-195-35-75-29-45-37-22-87-38-12-15-7-30 2-75 14-43 15-26 30-26 105-32 11-23 3-45 15-45 16-21zM3790 2209l-19 21-4 15 3 15 20 18 15 2 15-4 15-16 1-30-16-21-15-4z"/>
<path fill="#970000" d="M1330 1060l469 0-48 60-48 75-37 75-23 60-19 75-7 60 1 75 12 60 23 60 27 45 34 45 43 45 105 90 248 184 46 41 39 45 17 45-4 30-27 45-41 36-45 23-45 12-45 4-30-4-45-12-65-29-52-30-64-45-81-75-64-75-62-90-122-201-90-116zM3700 1207l30 10 30 17 72 66 24 45 24 76 15 17 90 66 72 66 93 127 0 444-90 22-165 83-15-7-16-39-35-60-2-15 14-60-8-30-44-60-44-48-14-27-16-165-11-30-79-96-90-39-40-30-12-30-9-45 5-45 11-27 15-20 15-11 60-21 53-26 17-30 5-30 15-27 15-17zM3940 1388l15 1 17 16 2 15-4 8-15 12-15 1-11-21-2-15zM3745 2299l82 21-3 15-49 82-15 5-15-22-11-35 0-45z"/>
<path fill="#870000" d="M1720 1060l-50 60-53 75-122 215-30 43-30 24-30 10-30-1-45-13 0-413zM3730 1266l41 34 24 45 5 60-9 45-61 41-15 19-23 60-19 15-78-7-45-14-28-24-17-32-12-58 12-45 15-17 60-25 60-35 45-60 15-8zM3835 1474l30 1 30 13 124 112 26 39 58 111 47 104 0 160-32 36-133 105-30 15-20 0-15-15-2-30 19-75-5-30-8-15-23-30-96-88-11-17-8-30-5-195 23-90 8-60 8-15zM1664 1915l11-9 30-7 30 5 45 14 120 57 150 91 72 59 35 45 10 30 0 15-9 30-10 15-32 30-28 15-38 11-45 2-30-5-45-15-45-23-45-30-83-75-36-45-28-45-27-60-12-45-1-30z"/></g>
<g fill="none" stroke="#000" stroke-width=".85" stroke-linejoin="round">
<polyline points="412.1,163.6 411.9,163.2 411.4,162.5 410.7,161.5 409.7,160.1 408.8,158.8 407.8,157.6 406.8,156.5 405.7,155.5 404.7,154.5 403.7,153.5 402.7,152.6 401.7,151.6 400.5,150.4 399.1,148.9 397.6,147.2 395.8,145.2 394.3,143.4 392.9,141.7 391.7,140.3 390.7,139 389.6,137.6 388.5,135.9 387.3,134.1 386.1,132.1 384.8,130.3 383.6,128.8 382.5,127.6 381.3,126.6 380.5,125.8 380,125.1 379.8,124.7 379.8,124.4 379.4,124 378.5,123.3 377,122.5 375,121.5 373.4,120.7 372.1,120.1 371.3,119.7 370.8,119.4 370.3,119.4 369.7,119.4 369,119.7 368.2,120 367.5,120.7 366.8,121.5 366.2,122.7 365.5,124 365,125.3 364.6,126.5 364.2,127.6 364,128.6 363.4,129.6 362.6,130.5 361.5,131.4 360.2,132.3 358.7,133.1 357.1,133.8 355.4,134.5 353.7,135.2 352.1,135.9 350.9,136.7 349.9,137.6 349.1,138.7 348.5,139.7 348,140.9 347.5,142.1 347.3,143.3 347.1,144.7 347.1,146.2 347.3,147.8 347.5,149.6 347.8,151 348.1,152.2 348.4,153.1 348.6,153.6 349.2,154.3 350.1,155.1 351.3,156 352.8,157 354.3,157.9 355.8,158.6 357.4,159.2 358.9,159.8 360.3,160.5 361.7,161.6 363,163 364.2,164.6 365.4,166.2 366.4,167.6 367.4,169 368.3,170.2 369,171.8 369.7,173.8 370.2,176.2 370.5,179 370.9,181.6 371.2,184 371.5,186.3 371.7,188.5 372.2,190.5 373,192.4 374,194.1 375.2,195.8 376.4,197.4 377.5,198.9 378.5,200.4 379.3,201.9 380.1,203.2 380.7,204.2 381.1,204.9 381.3,205.3 381.3,206.2 381,207.4 380.3,209 379.5,211.1 378.5,213.1 377.6,215.3 376.6,217.5 375.6,219.7 374.7,221.8 374,223.8 373.4,225.7 373,227.5 372.7,229.3 372.6,231.3 372.6,233.5 372.8,235.7 373.2,237.8 373.7,239.6 374.4,241.2 375.3,242.6 376.2,243.2 377.1,243.1 378,242.2 378.8,240.6 379.8,239 380.9,237.4 382.1,235.8 383.3,234.3 384.4,232.9 385.4,231.5 386.3,230.2 387.1,229 388.1,227.7 389.5,226.5 391.2,225.2 393.2,224 395.3,222.8 397.4,221.6 399.6,220.4 401.8,219.3 403.9,218.3 405.9,217.6 407.8,217 409.5,216.7 410.8,216.4 411.7,216.2 412.1,216.1"/>
<polyline points="390.2,107.8 390.4,108.1 390.8,108.8 391.3,109.7 392.1,111.1 393.1,112.2 394.3,113.4 395.8,114.4 397.6,115.2 399.3,116.1 401.1,117 402.9,117.9 404.6,118.8 406.3,119.8 407.8,120.8 409.1,122 410.3,123.2 411.2,124.2 411.8,124.8 412.1,125.1"/>
<polyline points="359.1,107.8 358.9,108.5 358.4,109.9 357.6,112 356.6,114.9 355.5,117.4 354.4,119.5 353.2,121.3 351.9,122.8 350.6,124.5 349.2,126.2 347.8,128.1 346.2,130.1 344.9,132.4 343.7,134.9 342.6,137.6 341.6,140.7 340.7,143.5 339.9,146.1 339.1,148.6 338.3,150.8 337.8,153.2 337.4,155.7 337.2,158.3 337.2,161 337.3,163.6 337.5,165.9 337.8,168.1 338.1,170.1 338.8,171.9 339.6,173.5 340.8,175 342.1,176.2 343.4,177.5 344.4,178.9 345.4,180.3 346.1,181.8 346.7,183.4 347,184.9 347.1,186.4 347,187.9 346.8,189.2 346.5,190.4 346.2,191.3 345.8,192.1 345.3,193.1 344.7,194.3 344.1,195.8 343.3,197.6 342.6,199.6 342,202 341.4,204.6 340.8,207.6 340.2,210.1 339.4,212.2 338.6,213.9 337.7,215.2 336.8,216.5 335.9,217.9 335,219.3 334.1,220.8 333.4,222.2 332.7,223.5 332.2,224.6 331.9,225.6 331.2,226.7 330.2,228 329,229.3 327.5,230.8 326,232.3 324.5,233.8 322.9,235.3 321.4,236.8 320.1,238.3 318.8,239.7 317.7,241 316.7,242.3 316.1,243.6 316,244.8 316.3,246.1 317.1,247.3 318,248.5 319.1,249.5 320.4,250.5 321.9,251.4 323.3,251.8 324.6,251.8 325.7,251.4 326.8,250.5 327.9,249.5 329.2,248.5 330.6,247.3 332.1,246.1 333.2,244.8 334.1,243.6 334.7,242.3 334.9,241 335.4,239.7 336.1,238.3 337.1,236.8 338.2,235.3 339.5,233.8 340.8,232.3 342.2,230.8 343.8,229.3 345.2,228 346.5,226.8 347.7,225.7 348.8,224.7 349.9,224.3 350.9,224.3 351.8,224.7 352.8,225.7 353.5,226.8 354,228.2 354.3,229.7 354.4,231.5 354.4,233.3 354.2,235.2 353.8,237.1 353.3,239.2 352.8,241.4 352.4,243.9 351.9,246.7 351.6,249.7 351.2,252.2 350.9,254.2 350.6,255.6 350.4,256.6 350.4,257.7 350.6,259.1 351.1,260.7 351.9,262.4 352.8,264.1 354,265.6 355.3,267 356.8,268.2 358.3,269.4 359.8,270.5 361.4,271.6 362.9,272.6 364.2,273.7 365.3,274.8 366.2,276 367,277.2 367.6,278.7 368.1,280.3 368.4,282.1 368.6,284.1 368.9,286 369.4,287.7 370.1,289.3 370.8,290.8 371.9,291.9 373.3,292.6 375,293 377,293 378.6,292.6 379.9,291.9 380.8,290.8 381.4,289.3 382.1,287.8 383,286.3 384.1,284.9 385.3,283.4 386.4,281.8 387.4,280.2 388.1,278.5 388.8,276.7 389.3,274.5 389.6,271.9 389.9,268.8 390,265.3 390.1,262 390.1,259 390,256.2 389.9,253.8 389.9,251.1 390,248.4 390.3,245.5 390.6,242.6 391.2,240 392,237.7 393.1,235.8 394.3,234.3 395.6,233 397,231.9 398.4,231 399.9,230.2 401.2,229.8 402.3,229.8 403.1,230.2 403.8,231 404.3,232 404.7,233.4 405.1,235.1 405.3,237.2 405.5,239.7 405.6,242.7 405.7,246.2 405.7,250.2 405.6,253.4 405.5,255.9 405.3,257.6 405.1,258.6 404.9,260.4 404.8,263 404.7,266.4 404.7,270.7 404.9,274.3 405.2,277.3 405.7,279.7 406.3,281.5 407.1,283.2 408,284.9 409.1,286.6 410.3,288.2 411.2,289.5 411.8,290.3 412.1,290.7"/>
<polyline points="351.3,107.8 351.2,108.3 350.9,109.2 350.6,110.5 350.1,112.4 349.5,114.3 348.8,116.3 348.1,118.5 347.4,120.7 346.3,122.8 345.1,124.8 343.6,126.7 341.8,128.5 340.3,130.4 339.1,132.4 338.1,134.5 337.3,136.8 336.7,139.1 336.1,141.5 335.6,143.9 335.3,146.4 334.8,148.7 334.3,150.7 333.8,152.4 333.1,153.8 332.4,155.3 331.4,156.8 330.3,158.2 329.1,159.8 327.8,161.3 326.6,163 325.3,164.7 324.1,166.4 322.9,168.1 321.7,169.6 320.7,171 319.6,172.2 318.7,173.5 317.8,174.9 317,176.3 316.2,177.8 315.6,179.4 315.2,181 314.9,182.7 314.8,184.5 314.8,186.2 315,188 315.4,189.8 315.9,191.5 316.3,192.6 316.8,193 317.2,192.7 317.5,191.7 318.1,190.8 319,190.1 320,189.4 321.3,188.9 322.7,188.5 324.2,188.3 325.8,188.3 327.6,188.4 329.2,188.7 330.6,189.2 331.9,189.9 333,190.8 333.9,191.8 334.5,192.9 334.9,194.1 335,195.3 334.9,196.7 334.6,198.2 334.1,199.8 333.3,201.6 332.6,203.4 331.8,205.2 331.1,207.1 330.3,209.1 329.8,210.2 329.6,210.4 329.6,209.8 329.9,208.2 330,207.5 329.9,207.5 329.6,208.2 329.1,209.8 328.3,211.3 327.3,213.1 326,214.9 324.5,216.7 322.8,218.5 321.1,220 319.2,221.3 317.2,222.4 315.2,223.5 313.2,224.4 311.1,225.3 309.1,226.1 307.1,226.8 305.2,227.4 303.4,227.9 301.6,228.4 299.9,228.6 298.1,228.6 296.4,228.5 294.7,228.1 292.8,227.5 290.8,226.6 288.7,225.3 286.5,223.8 284.8,222.7 283.7,222 283.1,221.6"/>
<polyline points="186.5,258.1 187,258 188.1,257.7 189.7,257.4 191.9,256.9 194.1,256.4 196.4,256.1 198.8,255.9 201.3,255.8 203.7,255.4 205.8,254.8 207.7,253.9 209.5,252.8 211.1,251.6 212.6,250.4 214,249.2 215.2,248 216.6,246.8 218.1,245.8 219.8,244.8 221.5,243.9 223.6,243.1 226,242.3 228.7,241.5 231.7,240.7 234.8,240 238.1,239.2 241.5,238.5 245,237.7 248.3,237.2 251.2,236.8 253.9,236.6 256.4,236.6 258.4,236.7 260.1,236.8 261.3,237 262.2,237.2 262.7,237.8 262.8,238.6 262.6,239.7 261.9,241.1 261.7,242.5 261.9,243.8 262.5,245.1 263.5,246.3 264.7,247.4 266.1,248.4 267.6,249.3 269.4,250.1 270.9,250.7 272.1,251.3 273.2,251.7 273.9,252 274.7,252.6 275.6,253.5 276.4,254.8 277.3,256.2 277.8,257.9 278,259.7 277.9,261.7 277.4,263.9 276.6,266 275.7,268.1 274.5,270.1 273.1,272.1 271.7,274.1 270.2,276.1 268.8,278.1 267.2,280.1 265.8,281.9 264.4,283.6 263.1,285.2 261.9,286.5 261,288 260.5,289.5 260.4,291.1 260.6,292.7 261.1,294.1 261.9,295.3 262.9,296.3 264.1,297.1 265.8,297.7 268,298.1 270.5,298.4 273.6,298.5 276.1,298.5 278.3,298.4 280,298.1 281.2,297.8 282.6,297.5 284.1,297.3 285.7,297.2 287.4,297.2 289.1,297.2 290.9,297.2 292.6,297.2 294.3,297.2 295.9,297.3 297.3,297.6 298.5,297.9 299.6,298.4 300.7,299.2 301.9,300.2 303.1,301.4 304.3,302.9 305.3,304.1 306.1,305 306.6,305.5 306.8,305.7 307.6,306.5 308.8,307.8 310.6,309.8 312.8,312.3 314.9,314.6 316.9,316.5 318.8,318.2 320.6,319.5 322.5,320.7 324.5,321.7 326.6,322.5 328.9,323.2 331.1,323.8 333.2,324.5 335.2,325.2 337.1,326 339.1,326.7 341.2,327.3 343.4,327.9 345.6,328.4 347.9,328.9 350.1,329.5 352.4,330.2 354.7,331 357,331.8 359.2,332.6 361.5,333.4 363.7,334.3 365.6,334.6 367.1,334.4 368.2,333.5 369,332.2 369.8,330.4 370.7,328.4 371.6,326 372.6,323.2 373.6,320.3 374.7,317.3 375.8,314.2 376.9,310.9 378.2,308 379.6,305.5 381.1,303.5 382.7,301.8 384.5,300.2 386.5,298.7 388.6,297.3 390.8,296.1 392.8,295.4 394.4,295.3 395.7,295.7 396.7,296.7 397.6,298 398.5,299.6 399.3,301.6 400.1,303.8 400.6,305.4 401,306.4 401.2,306.8 401.2,306.5 401.4,306.7 401.8,307.6 402.3,309 403.1,311.1 404.1,312.9 405.5,314.5 407.2,316 409.1,317.2 410.6,318.2 411.6,318.8 412.1,319.1"/>
<polyline points="229.2,233 229.6,232.9 230.5,232.6 231.8,232.2 233.6,231.8 235.5,231.3 237.6,230.8 239.9,230.4 242.4,230.1 244.3,229.8 245.6,229.6 246.2,229.5"/>
<polyline points="203.1,247.1 203.7,246.8 204.8,246.3 206.5,245.4 208.7,244.3 211,243.2 213.2,242 215.5,240.9 217.8,239.8 219.5,238.9 220.6,238.4 221.2,238.1"/>
<polyline points="226.8,350.4 227.2,350.2 228.1,349.7 229.4,349.1 231.2,348.2 233.3,347.4 235.7,346.8 238.4,346.2 241.4,345.8 244,345.7 246.2,346 248,346.8 249.3,347.8 250,349.1 250,350.4 249.3,351.8 248,353.3 246.6,354.5 245,355.4 243.4,355.9 241.6,356.2 239.9,356.2 238.1,356 236.4,355.5 234.6,354.9 233,354.2 231.5,353.4 230,352.6 228.8,351.7 227.8,351.1 227.1,350.6 226.8,350.4"/>
<polyline points="306.9,114.1 307.2,113.9 307.7,113.5 308.5,112.9 309.5,112.2 310.6,111.4 311.6,110.6 312.6,109.9 313.6,109.1 314.4,108.6 314.9,108.2 315.1,108"/>
<polyline points="343.7,107.8 343.7,108.3 343.6,109.2 343.5,110.5 343.4,112.4 343.2,114.2 342.9,116.1 342.4,118.1 341.9,120.1 341.3,122 340.6,123.9 339.7,125.7 338.7,127.5 337.8,129.2 336.9,131 336.1,132.7 335.3,134.5 334.6,136 333.8,137.2 333.1,138.3 332.3,139 331.6,139.7 330.8,140.4 330.1,140.9 329.3,141.4 328.7,142.2 328.2,143.2 327.8,144.4 327.6,145.9 327.2,147.6 326.7,149.5 326.1,151.5 325.3,153.7 324.4,155.8 323.4,157.8 322.3,159.7 321,161.4 319.8,163.1 318.7,164.8 317.6,166.3 316.6,167.8 315.7,169.3 315,170.7 314.4,172 313.9,173.2 313.2,174.7 312.5,176.3 311.6,178.1 310.6,180.1 309.7,182 309,183.7 308.4,185.3 308,186.8 307.4,188.3 306.7,189.7 305.9,191 305,192.3 303.9,193.5 302.7,194.7 301.4,195.9 299.9,197 298.8,198.1 298.1,199.1 297.8,200 297.9,200.9 298.4,201.8 299.2,202.6 300.4,203.5 301.9,204.4 303.4,205.1 304.9,205.8 306.4,206.3 307.9,206.6 309.3,207.2 310.6,207.8 311.8,208.6 313,209.6 313.8,210.5 314.3,211.2 314.5,212 314.4,212.6 313.7,213.3 312.5,213.9 310.8,214.5 308.6,215.2 306.3,215.7 304.1,216.1 301.8,216.5 299.5,216.7 297.4,217 295.5,217.4 293.8,217.8 292.2,218.3 291.1,218.7 290.3,219 289.9,219.1"/>
<polyline points="177.2,273.1 177.5,273.2 178.1,273.5 179.1,273.9 180.3,274.4 181.8,274.8 183.4,275.2 185.2,275.6 187.2,275.9 188.9,276 190.2,276.1 191.2,276.1 192,275.9 192.9,275.7 194.2,275.5 195.7,275.1 197.4,274.8 199.5,274.5 201.9,274.3 204.6,274.1 207.5,274.1 210.3,274.2 212.8,274.6 215.1,275.1 217.1,275.9 218.8,276.7 220.2,277.6 221.1,278.5 221.8,279.5 222.2,280.7 222.4,282.1 222.5,283.7 222.4,285.4 222,287.1 221.5,288.8 220.7,290.4 219.6,291.9 218.5,293.3 217.2,294.7 215.8,296 214.3,297.2 212.9,298.3 211.5,299.3 210.2,300 209,300.7 207.6,301.5 206.1,302.5 204.5,303.7 202.7,305 201,306.5 199.2,308.1 197.4,309.8 195.7,311.5 194,313.3 192.3,315.1 190.8,316.8 189.2,318.6 188,320 187,321.1 186.3,321.9 185.9,322.4 185.3,323.2 184.7,324.3 184.1,325.7 183.3,327.5 182.8,329.8 182.4,332.7 182.2,336.1 182.2,340.2 182.4,343.7 182.9,346.7 183.7,349.2 184.7,351.2 186,353.1 187.5,354.9 189.2,356.6 191.3,358.1 193.1,359.7 194.9,361.2 196.4,362.6 197.9,364 199.2,365.1 200.4,365.9 201.5,366.4 202.5,366.7 204.1,367.1 206.4,367.8 209.2,368.7 212.8,369.8 216.2,371 219.8,372.3 223.2,373.7 226.8,375.2 230,376.6 233.1,377.8 235.9,378.8 238.6,379.7 240.9,381 243,382.8 244.8,384.9 246.3,387.6 247.8,389.8 249.4,391.7 250.9,393.3 252.5,394.5 254,395.6 255.4,396.6 256.8,397.6 258,398.4 259.3,399.1 260.6,399.6 261.9,399.9 263.1,400 264.3,400.3 265.3,400.6 266.3,401.1 267.2,401.8 267.8,402.5 268,403.4 267.9,404.4 267.6,405.5 267.3,406.4 267.1,406.9 267,407.2"/>
<polyline points="285.1,412.5 285.6,412.3 286.6,412 288.1,411.6 290.1,410.9 292.2,410.2 294.5,409.4 296.9,408.5 299.4,407.5 301.7,406.6 303.7,405.7 305.4,405 306.9,404.2 308.3,403.3 309.4,402.2 310.3,400.9 311.1,399.4 311.6,398.1 311.8,397.1 311.8,396.1 311.6,395.4 310.8,394.9 309.6,394.5 307.8,394.3 305.6,394.3 303.1,394.3 300.5,394.3 297.7,394.4 294.6,394.5 291.7,394.7 289,395 286.4,395.4 283.9,395.9 281.7,396.2 279.8,396.3 278.2,396.1 277,395.8 276,395.3 275.4,394.7 275.1,394.1 275.1,393.3 275.4,392.3 275.9,391.1 276.6,389.5 277.6,387.8 278.7,386.2 279.8,384.8 281,383.6 282.2,382.6 283.6,381.4 285.1,379.9 286.7,378.1 288.5,376.1 290.1,374.4 291.6,372.9 293,371.6 294.2,370.6 295.5,369.8 296.7,369.3 298,368.9 299.3,368.8 300.5,368.8 301.6,368.9 302.7,369.2 303.7,369.5 305,369.9 306.6,370.1 308.6,370.3 310.8,370.4 313.1,370.4 315.5,370.3 317.9,370 320.4,369.7 322.8,369.2 325.1,368.6 327.2,368 329.3,367.2 331.2,366.4 332.9,365.5 334.6,364.6 336.1,363.5 337.3,362.4 338.2,361.1 338.9,359.8 339.4,358.2 339.8,356.6 340.3,354.9 340.8,353.1 341.2,351.1 341.9,349.5 342.6,348.4 343.5,347.5 344.5,347.1 345.7,346.7 347.1,346.5 348.6,346.4 350.4,346.4 352.1,346.5 353.7,346.8 355.3,347.3 356.8,347.8 358.3,348.6 359.8,349.6 361.4,350.8 362.9,352.1 364.4,353.5 366,354.8 367.7,356.1 369.5,357.3 371.6,358.7 374.1,360.2 376.9,361.7 380.2,363.5 382.8,364.4 384.8,364.4 386.2,363.8 387,362.2 387.4,360.6 387.4,358.9 387.1,357.1 386.3,355.1 385.6,353.1 384.8,351 384.1,348.8 383.3,346.6 382.7,344.3 382.2,341.9 381.8,339.4 381.6,336.9 381.4,334.4 381.4,331.9 381.6,329.4 381.8,326.9 382.2,324.5 382.7,322.4 383.3,320.5 384.1,318.7 385.1,317.9 386.3,317.9 387.8,318.7 389.6,320.5 391.2,322.3 392.7,324.2 394.1,326.1 395.3,328.1 396.4,330.2 397.4,332.3 398.3,334.5 399.1,336.8 399.8,339.1 400.4,341.5 400.9,343.9 401.4,346.4 401.8,348.9 401.9,351.4 401.8,353.9 401.6,356.3 401.4,359 401.3,361.8 401.3,364.9 401.3,368.2 401.6,371.5 402.1,374.7 402.8,378 403.8,381.2 404.7,384.2 405.7,386.8 406.7,389.1 407.8,391.2 408.7,392.9 409.6,394.3 410.4,395.5 411.1,396.4 411.6,397 411.9,397.5 412.1,397.7"/>
<polyline points="306.9,120.6 307.5,120.6 308.8,120.5 310.7,120.4 313.3,120.3 315.6,120 317.6,119.5 319.4,118.8 320.9,117.9 322.6,116.7 324.5,115.3 326.6,113.6 328.8,111.5 330.6,110.1 332,109.3 332.9,109.1 333.4,109.4 333.9,110.3 334.2,111.8 334.4,113.8 334.5,116.3 334.5,118.5 334.4,120.2 334.1,121.6 333.8,122.6 332.9,123.4 331.6,123.9 329.8,124.3 327.6,124.4 325.7,124.8 324.2,125.4 323.1,126.3 322.3,127.4 321.6,128.8 320.9,130.3 320.2,132.1 319.6,134.1 318.9,135.8 318.3,137.3 317.7,138.4 317,139.3 316.2,140.1 315.1,140.8 313.9,141.3 312.4,141.6 311,141.9 309.9,141.9 308.9,141.8 308.1,141.6 307.5,141.4 307.1,141.3 306.9,141.2"/>
<polyline points="306.9,128.6 307.1,128.8 307.4,129.1 307.9,129.6 308.6,130.3 308.9,131 308.9,131.7 308.6,132.3 307.9,133 307.4,133.6 307.1,133.9 306.9,134.1"/>
<polyline points="289.9,202.5 290.3,203.2 291.2,204.6 292.4,206.7 294.1,209.4 294.9,211.8 294.9,213.8 294.1,215.5 292.4,216.7 291.2,217.7 290.3,218.3 289.9,218.6"/>
<polyline points="169.1,289.1 169.5,289.2 170.2,289.3 171.4,289.5 172.9,289.8 174.3,290.1 175.6,290.6 176.7,291.1 177.7,291.8 178.7,292.5 179.6,293.4 180.5,294.4 181.4,295.5 181.8,296.5 181.6,297.3 181,297.9 179.9,298.4 178.7,298.9 177.4,299.4 175.9,299.9 174.4,300.4 173.1,301 171.9,301.7 170.8,302.5 169.9,303.4 169.2,304.1 168.8,304.7 168.4,305.2 168.3,305.5 168.3,306.1 168.2,306.9 168.2,307.9 168.2,309.1 168.4,310.4 168.9,311.8 169.5,313.3 170.4,314.8 171.1,316.4 171.6,318 171.9,319.7 172,321.5 172,323.4 171.9,325.4 171.6,327.5 171.3,329.7 170.9,332.2 170.7,334.8 170.5,337.6 170.4,340.7 170.3,343.9 170.3,347.2 170.4,350.7 170.5,354.5 170.6,358.5 170.6,362.8 170.5,367.5 170.4,372.6 170.5,377.2 171,381.3 171.7,385 172.7,388.3 173.7,391.2 174.6,393.9 175.5,396.2 176.4,398.2 177.3,399.8 178.1,401 179,401.9 179.9,402.3 180.9,403.1 181.9,404.2 183.1,405.6 184.3,407.4 185.6,409 187,410.4 188.5,411.7 190,412.9 191.3,414 192.4,415.1 193.2,416.1 193.9,417.1 194.2,418.3 194.2,419.6 193.9,421 193.2,422.7 192.4,424.1 191.3,425.4 190,426.4 188.5,427.3 186.8,428.2 185.1,429 183.2,429.9 181.2,430.8 179.2,431.9 177.2,433.2 175.2,434.7 173.2,436.5 171.5,438 170.2,439.4 169.3,440.6 168.6,441.7 168.1,442.8 167.7,444 167.3,445.3 167.1,446.8 166.9,447.8 166.8,448.5 166.7,448.9"/>
<polyline points="160.1,294.2 160.4,294.4 160.9,294.7 161.8,295.1 162.9,295.8 163.5,296.4 163.5,297 162.9,297.6 161.8,298.3 160.9,298.7 160.4,299 160.1,299.2"/>
<polyline points="250.4,448.8 251,448.3 252.2,447.4 254,445.9 256.4,444.1 258.8,442.2 261.3,440.5 263.8,438.9 266.2,437.4 268.8,436 271.3,434.6 273.8,433.4 276.3,432.3 279.1,431.1 282.3,429.9 285.7,428.7 289.5,427.5 293.2,426.3 297,425.1 300.8,424 304.5,422.9 308.3,422 312.1,421.2 315.8,420.5 319.6,419.9 323.3,419.5 327,419.1 330.8,418.8 334.5,418.7 338.5,418.5 343,418.5 347.9,418.5 353.2,418.5 358,418.8 362.2,419.2 366,419.7 369.2,420.5 372.4,421.4 375.4,422.4 378.3,423.5 381,424.7 383.6,426 385.8,427.3 387.8,428.7 389.6,430 391.3,431.4 393,432.8 394.6,434.2 396.3,435.5 397.7,437 398.9,438.5 400,440.1 400.9,441.7 401.8,443.3 402.6,444.7 403.5,446 404.4,447.1 405,448 405.5,448.6 405.7,448.9"/>
<polyline points="150.9,313 151.2,313.1 151.7,313.4 152.5,313.8 153.5,314.3 154.7,314.8 156,315.2 157.4,315.7 158.9,316 160.2,316.5 161.4,317.2 162.3,317.9 163.1,318.8 163.7,319.9 164.3,321.4 164.8,323.1 165.1,325.1 165.4,327.4 165.5,329.9 165.5,332.6 165.4,335.7 165.2,339.2 165,343.2 164.8,347.6 164.6,352.6 164.5,356.9 164.5,360.7 164.8,363.8 165.1,366.3 165.4,369.5 165.6,373.2 165.7,377.6 165.7,382.7 165.6,387.2 165.4,391.2 165.1,394.7 164.8,397.7 164.3,400.4 163.7,402.9 163.1,405.1 162.3,407.1 161.5,409 160.7,411 159.8,413 158.9,415.1 158.7,417.1 159,419.1 159.9,421.1 161.4,423.1 162.6,425 163.4,426.9 163.9,428.7 164,430.5 163.9,432.3 163.5,434.2 162.9,436.1 162,438.2 161.2,440.2 160.5,442.1 159.9,444.1 159.4,446 159,447.5 158.7,448.4 158.6,448.9"/>
<polyline points="150.9,318.1 151.2,318.2 151.7,318.4 152.5,318.7 153.5,319 154.6,319.5 155.6,320.2 156.6,320.9 157.6,321.8 158.5,322.8 159.2,324 159.9,325.4 160.4,326.9 160.8,328.8 161,331.2 161,334 160.9,337.3 160.8,340.9 160.6,344.7 160.5,348.9 160.4,353.3 160.4,357.9 160.4,362.7 160.6,367.5 160.8,372.6 160.9,377 160.8,380.7 160.6,383.9 160.2,386.4 159.8,388.9 159.4,391.4 159,393.9 158.7,396.4 158.2,398.8 157.5,400.9 156.8,402.8 155.9,404.6 154.9,406.1 153.8,407.3 152.5,408.2 151.2,409 149.7,409.8 148,410.8 146.3,411.9 144.4,413.2 142.9,414.4 141.8,415.5 141,416.6 140.7,417.6 140.5,418.7 140.7,419.8 141,421 141.7,422.2 142.5,423.3 143.7,424.3 145,425 146.7,425.7 148.3,426.4 149.8,427.1 151.3,427.9 152.8,428.8 154.2,429.8 155.3,430.8 156.2,432 157,433.2 157.5,434.6 157.7,436.1 157.7,437.8 157.5,439.5 157.1,441.3 156.7,443 156.2,444.7 155.5,446.4 155.1,447.6 154.8,448.5 154.6,448.9"/>
<polyline points="150.9,322.6 151.2,322.8 151.7,323.2 152.5,323.7 153.5,324.5 154.5,325.3 155.3,326.3 156,327.3 156.7,328.4 157.1,329.9 157.4,331.7 157.6,333.9 157.6,336.4 157.6,339.4 157.6,342.9 157.6,346.9 157.6,351.3 157.6,356 157.7,361 157.8,366.3 157.9,371.8 157.8,376.5 157.3,380.2 156.6,383.1 155.6,385.1 154.7,387.2 154,389.5 153.3,391.9 152.8,394.4 152.3,396.7 151.8,398.8 151.3,400.6 150.8,402.3 150.2,403.6 149.3,404.7 148.2,405.4 147,405.9 145.9,406.4 145,406.9 144.3,407.3 143.8,407.6 143.5,407.9 143.2,408.1 143.1,408.2"/>
<polyline points="135.1,429.6 135.6,429.6 136.6,429.7 138.1,429.8 140.1,429.9 142.1,430.1 144.1,430.4 146.1,430.9 148.1,431.4 149.8,432 151.1,432.7 152,433.6 152.7,434.6 153.1,435.8 153.3,437.2 153.2,438.8 153,440.5 152.7,442.2 152.5,443.8 152.2,445.3 152,446.8 151.8,447.8 151.7,448.5 151.6,448.9"/>
<polyline points="150.9,326.6 151.1,326.8 151.4,327.3 151.9,327.9 152.6,328.8 153.2,329.9 153.6,331.4 154,333.1 154.2,335.1 154.3,337.2 154.3,339.3 154.2,341.5 154,343.8 153.8,346.3 153.8,349 154,352 154.2,355.2 154.4,358.5 154.5,362 154.6,365.7 154.6,369.4 154.6,372.6 154.6,375.1 154.6,377 154.6,378.2 154.4,379.4 153.9,380.6 153.3,381.8 152.4,382.9 151.8,383.8 151.3,384.3 151.1,384.6"/>
<polyline points="143.1,435.1 143.5,435.4 144.3,436.1 145.5,437 147.2,438.3 148.3,439.6 148.9,440.8 149,442.1 148.7,443.3 148.3,444.5 148.1,445.6 147.9,446.6 147.8,447.5 147.7,448.2 147.6,448.7 147.6,448.9"/>
<polyline points="143.1,390.7 143.3,391 143.8,391.7 144.4,392.8 145.3,394.1 145.9,395.4 146.3,396.6 146.4,397.7 146.3,398.7 146,399.7 145.6,400.8 145,401.9 144.2,403 143.7,403.9 143.3,404.4 143.1,404.7"/>
<polyline points="298.1,154.5 298.7,154.5 299.8,154.5 301.5,154.5 303.7,154.5 305.7,154.8 307.5,155.3 309,156.2 310.2,157.3 311.3,158.5 312.1,159.7 312.7,160.9 313,162.2 313.2,163.7 313,165.5 312.7,167.5 312,169.7 311.3,172 310.4,174.4 309.4,176.8 308.3,179.3 307.4,181.5 306.7,183.4 306.2,185 306,186.2 305.5,187.5 304.9,188.9 304.1,190.4 303.1,191.9 302,193.3 300.9,194.6 299.7,195.7 298.5,196.7 297.1,197.5 295.7,198.2 294.1,198.8 292.5,199.1 291.2,199.4 290.4,199.6 290,199.7"/>
<polyline points="298.6,158.5 299,158.6 299.9,158.8 301.2,159.1 303,159.4 304.4,160 305.5,160.7 306.4,161.5 306.9,162.6 307.2,163.8 307.3,165.3 307.2,167.1 307,169.1 306.6,171.1 306.2,173.1 305.7,175.1 305,177.1 304.5,179 304,180.9 303.5,182.7 303.2,184.5 302.7,186.2 302,187.8 301.3,189.4 300.4,190.9 299.4,192.3 298.2,193.6 296.8,194.7 295.3,195.7 294,196.5 292.8,197.1 291.9,197.6 291.1,197.8 290.6,198 290.2,198.1 290,198.2"/>
<polyline points="297.1,160.5 297.4,160.6 297.9,160.9 298.8,161.2 299.9,161.8 300.9,162.3 301.7,163.1 302.4,163.9 302.9,164.8 303.2,165.8 303.4,167 303.5,168.3 303.4,169.8 303.2,171.5 303,173.2 302.7,175.1 302.2,177.1 301.8,179 301.4,180.7 301,182.3 300.7,183.8 300.2,185.3 299.7,186.8 299.1,188.2 298.4,189.6 297.5,190.9 296.6,192.1 295.5,193.2 294.3,194.2 293.2,195 292.3,195.6 291.6,196.1 290.9,196.3 290.5,196.5 290.2,196.6 290,196.7"/>
<polyline points="295.3,160.5 295.6,160.7 296.1,161.1 296.8,161.7 297.8,162.4 298.7,163.2 299.4,164.1 299.9,164.9 300.3,165.8 300.6,166.8 300.7,167.9 300.8,169.2 300.7,170.5 300.6,172 300.3,173.7 300,175.4 299.7,177.3 299.3,179 298.9,180.7 298.6,182.2 298.2,183.5 297.8,184.9 297.4,186.1 296.9,187.3 296.4,188.5 295.8,189.6 295,190.7 294.2,191.7 293.2,192.7 292.4,193.5 291.7,194.1 291.1,194.6 290.7,194.8 290.3,195 290.1,195.1 290,195.2"/>
<polyline points="293.7,160.5 293.9,160.7 294.3,161.2 295,161.9 295.8,162.8 296.5,163.6 297.1,164.5 297.6,165.4 297.9,166.3 298.1,167.3 298.3,168.4 298.3,169.7 298.2,171 298.1,172.5 297.9,174.1 297.6,175.7 297.3,177.5 297,179.1 296.7,180.6 296.4,182 296.1,183.2 295.7,184.4 295.4,185.5 295,186.6 294.5,187.6 294.1,188.6 293.5,189.5 292.9,190.4 292.3,191.3 291.7,192.1 291.2,192.7 290.8,193.1 290.5,193.3 290.2,193.5 290.1,193.6 290,193.7"/>
<polyline points="290.8,160.5 291,160.8 291.4,161.3 292,162 292.9,163.1 293.6,164.1 294.2,165.1 294.8,166.1 295.2,167.1 295.5,168.2 295.8,169.3 295.8,170.5 295.8,171.7 295.7,173.1 295.5,174.5 295.3,176 295.1,177.7 294.8,179.2 294.6,180.5 294.3,181.8 294.1,182.9 293.8,184 293.5,184.9 293.1,185.8 292.8,186.7 292.4,187.5 292,188.2 291.7,189 291.3,189.6 291,190.3 290.7,190.8 290.5,191.2 290.3,191.5 290.1,191.8 290.1,191.9 290,192"/>
<polyline points="290,169.1 290.1,169.2 290.4,169.4 290.8,169.7 291.4,170 291.9,170.5 292.3,171.2 292.6,171.9 292.9,172.8 293.1,173.8 293.2,175 293.2,176.3 293,177.8 292.9,179.2 292.7,180.5 292.4,181.6 292.2,182.6 291.9,183.5 291.7,184.4 291.4,185.2 291.2,186 290.9,186.7 290.7,187.3 290.5,187.9 290.3,188.5 290.1,188.9 290.1,189.2 290,189.3"/>
</g>
</g>
<g>
<rect x="370.1" y="113.0" width="13.9" height="11.8" fill="#fff"/>
<text x="377.1" y="123.3" text-anchor="middle" font-size="10.7" textLength="11.3" lengthAdjust="spacingAndGlyphs">19</text>
<rect x="292.1" y="223.3" width="13.9" height="11.5" fill="#fff"/>
<text x="299.1" y="233.3" text-anchor="middle" font-size="10.7" textLength="11.3" lengthAdjust="spacingAndGlyphs">18</text>
<rect x="283.1" y="289.1" width="13.8" height="11.6" fill="#fff"/>
<text x="290.0" y="299.2" text-anchor="middle" font-size="10.7" textLength="11.2" lengthAdjust="spacingAndGlyphs">18</text>
<rect x="365.1" y="287.1" width="23.9" height="12.1" fill="#fff"/>
<text x="377.1" y="297.7" text-anchor="middle" font-size="10.7" textLength="21.3" lengthAdjust="spacingAndGlyphs">18.5</text>
<rect x="200.1" y="265.4" width="23.9" height="11.6" fill="#fff"/>
<text x="212.1" y="275.5" text-anchor="middle" font-size="10.7" textLength="21.3" lengthAdjust="spacingAndGlyphs">17.5</text>
<rect x="373.1" y="360.0" width="23.9" height="11.6" fill="#fff"/>
<text x="385.1" y="370.1" text-anchor="middle" font-size="10.7" textLength="21.3" lengthAdjust="spacingAndGlyphs">17.5</text>
<rect x="261.0" y="407.0" width="24.1" height="11.8" fill="#fff"/>
<text x="273.1" y="417.3" text-anchor="middle" font-size="10.7" textLength="21.5" lengthAdjust="spacingAndGlyphs">17.5</text>
</g>
<g stroke="#a0a0a0" stroke-width="1" stroke-dasharray="2 4.6 1 5.4" fill="none" shape-rendering="crispEdges">
<line x1="194.5" y1="60.0" x2="194.5" y2="559.0"/>
<line x1="265.5" y1="60.0" x2="265.5" y2="559.0"/>
<line x1="336.5" y1="60.0" x2="336.5" y2="559.0"/>
<line x1="407.5" y1="60.0" x2="407.5" y2="559.0"/>
<line x1="477.5" y1="60.0" x2="477.5" y2="559.0"/>
<line x1="548.5" y1="60.0" x2="548.5" y2="559.0"/>
<line x1="619.5" y1="60.0" x2="619.5" y2="559.0"/>
<line x1="129.0" y1="106.5" x2="670.0" y2="106.5"/>
<line x1="129.0" y1="191.5" x2="670.0" y2="191.5"/>
<line x1="129.0" y1="276.5" x2="670.0" y2="276.5"/>
<line x1="129.0" y1="360.5" x2="670.0" y2="360.5"/>
<line x1="129.0" y1="445.5" x2="670.0" y2="445.5"/>
<line x1="129.0" y1="530.5" x2="670.0" y2="530.5"/>
</g>
<g fill="none" stroke="#000" stroke-width="2.6" stroke-linejoin="round" stroke-linecap="round">
<polyline points="350.2,55.5 347.2,57 340.2,62 333.1,67.6 325.1,74.1 314.1,81.1 306,86.1 300.2,89.1 293.1,94.7 286.1,102.2 280.1,109.2 282.2,107 280.2,110 284.7,115.1 289.2,111.5 295.2,116.1 301.3,113 301.8,119.1 299.3,122.1 302.8,130.1 301.8,140.2 298.3,148.2 295.2,154.2 284.2,155.2 284.7,160 287.7,164.1 290.7,167.1 288.2,171.6 287.2,180.1 287.2,190.2 287.8,191 284.7,198.1 282.7,210.1 280.7,216.1 274.7,222.2 260.2,222.7 252.1,224.7 232,225.7 220.3,227.1 210.2,231.2 200.2,238.2 194.2,241.7 191.7,245.1 192.2,248.6 188.2,250.1 186.2,252.1 183.2,258.1 179.2,265.2 174.2,274.2 168.1,280.2 160.1,288.1 156.1,291.2 153.1,298.2 151.1,302.7 145.1,304.7 143,308.2 142.1,313 144.1,320.1 147.6,329.6 142.1,335.1 145.1,342.2 147.6,354.2 148.1,356 147.6,363 144.1,373.1 140.1,384.1 135.6,394.2 135.1,400.2 136.6,404.2 137.1,404.5 134.1,410 133.6,413 135.1,420.1 135.6,430.1 138.6,437.1 137.1,443.2 132,452.2 124,460.2"/>
<polyline points="124,404 136.8,404"/>
<polyline points="284.6,55.5 283.6,63 282.1,72.1 279.6,77.1 279.1,90.2 281.6,98.2 289.1,98.7 293.1,94.7"/>
<polyline points="291.6,55.5 291.6,71.1 294.6,76.1 297.6,79.1 298.1,86.1 300.2,88.6"/>
<polyline points="304,84.1 310,80.6 315.1,76.6 309,71.6 312,65.1 320.6,61 325.1,66.6 326.6,58 329.1,55.5"/>
<polyline points="329.1,55.8 330.1,60 331.6,55.8"/>
<polyline points="124.5,144.6 132.1,149.2 142.2,149.2 148.2,152.6 165.3,152.2 162.2,146.2 170.3,136.1 181.3,143.2 188.4,142.6 193.4,136.1 206.4,130.1 216.5,127.1 224.5,121.1 238.6,116.1 244.6,118.5 245.1,118.6 252.6,116.1 260.1,119.6 268.1,121.6 277.2,125.1 284.2,130.1 288.7,136.1 290.2,145.2 289.7,154.2"/>
<polyline points="165.6,252 166.6,247.2 168.6,241.2 171.1,236.2 177.1,233.7 184.1,231.7 186.6,226.1 186.1,221.1 183.1,216.6 178.1,211.1 176.1,205.6 177.6,200 182.1,195.5 190.2,191.5 197.2,191.2 204.2,193 210.7,197.5 204.7,201 200.2,207.1 201.7,216.1 208.2,218.6 215.7,220.1 214.2,226.1 206.2,229.1 191.2,234.2 194.2,241.7"/>
<polyline points="191.2,234.2 206.2,229.3 216.2,225.9"/>
<polyline points="186.7,225 184.7,231 178.2,234.5 171.2,236.5 168.1,241.1 165.6,248.1 165.1,251.6 170.2,251.6 175.2,249.1 179.2,244.1 182.2,240.6 188.2,241.6 191.7,245.1"/>
<polyline points="182.2,240.6 180.2,243.6 185.2,243.6 189.2,244.6"/>
<polyline points="176.2,252.6 169.1,256.1 163.1,260.6 161.1,265.2 160.6,272.2 159.1,281.7 163.1,275.2 170.2,268.2 177.2,263.1 183.2,258.1"/>
</g>
<rect x="124" y="55" width="551" height="509" fill="none" stroke="#000" stroke-width="2" shape-rendering="crispEdges"/>
<g stroke="#000" stroke-width="1" shape-rendering="crispEdges">
<line x1="124.5" y1="565" x2="124.5" y2="568"/>
<line x1="194.5" y1="565" x2="194.5" y2="568"/>
<line x1="265.5" y1="565" x2="265.5" y2="568"/>
<line x1="336.5" y1="565" x2="336.5" y2="568"/>
<line x1="407.5" y1="565" x2="407.5" y2="568"/>
<line x1="477.5" y1="565" x2="477.5" y2="568"/>
<line x1="548.5" y1="565" x2="548.5" y2="568"/>
<line x1="619.5" y1="565" x2="619.5" y2="568"/>
<line x1="120" y1="106.5" x2="123" y2="106.5"/>
<line x1="120" y1="191.5" x2="123" y2="191.5"/>
<line x1="120" y1="276.5" x2="123" y2="276.5"/>
<line x1="120" y1="360.5" x2="123" y2="360.5"/>
<line x1="120" y1="445.5" x2="123" y2="445.5"/>
<line x1="120" y1="530.5" x2="123" y2="530.5"/>
</g>
<g font-size="12.8">
<text x="124.0" y="579.5" font-size="13.2" text-anchor="middle">28.5</text>
<text x="194.6" y="579.5" font-size="13.2" text-anchor="middle">29</text>
<text x="265.4" y="579.5" font-size="13.2" text-anchor="middle">29.5</text>
<text x="336.2" y="579.5" font-size="13.2" text-anchor="middle">30</text>
<text x="407.0" y="579.5" font-size="13.2" text-anchor="middle">30.5</text>
<text x="477.8" y="579.5" font-size="13.2" text-anchor="middle">31</text>
<text x="548.6" y="579.5" font-size="13.2" text-anchor="middle">31.5</text>
<text x="619.4" y="579.5" font-size="13.2" text-anchor="middle">32</text>
<text x="117.3" y="110.8" text-anchor="end">45.5</text>
<text x="117.3" y="195.6" text-anchor="end">45</text>
<text x="117.3" y="280.4" text-anchor="end">44.5</text>
<text x="117.3" y="365.2" text-anchor="end">44</text>
<text x="117.3" y="450.1" text-anchor="end">43.5</text>
<text x="117.3" y="534.9" text-anchor="end">43</text>
</g>
<g font-size="27.5" stroke="#fff" stroke-width=".35"><text x="23.0" y="42.8" textLength="141.0" lengthAdjust="spacingAndGlyphs">Temperature</text><text x="177.8" y="42.8" textLength="107.0" lengthAdjust="spacingAndGlyphs">(Celsius).</text><text x="297.2" y="42.8" textLength="49.2" lengthAdjust="spacingAndGlyphs">Date</text><text x="361.0" y="42.8" textLength="137.5" lengthAdjust="spacingAndGlyphs">2016.05.26.</text><text x="512.5" y="42.8" textLength="50.5" lengthAdjust="spacingAndGlyphs">Time</text><text x="577.8" y="42.8" textLength="141.9" lengthAdjust="spacingAndGlyphs">00(h):00(m)</text><text x="733.4" y="42.8" textLength="48.1" lengthAdjust="spacingAndGlyphs">GMT</text></g>
<g font-size="19.3" fill="#000" stroke="#fff" stroke-width=".4">
<text x="146" y="109.8" textLength="12.5" lengthAdjust="spacingAndGlyphs">Z</text>
<text x="174.5" y="109.8" textLength="15.5" lengthAdjust="spacingAndGlyphs">=</text>
<text x="205.5" y="109.8" textLength="35" lengthAdjust="spacingAndGlyphs">2.5</text>
<text x="255" y="109.8" textLength="20.5" lengthAdjust="spacingAndGlyphs">m</text>
</g>
<g font-size="19.8">
<text x="322.5" y="605.4" textLength="87" lengthAdjust="spacingAndGlyphs">Langitude</text>
<text x="422" y="605.4" textLength="53.5" lengthAdjust="spacingAndGlyphs">(East)</text>
<text transform="translate(81.2,383) rotate(-90)" textLength="72" lengthAdjust="spacingAndGlyphs">Latitude</text>
<text transform="translate(81.2,300.6) rotate(-90)" textLength="64.5" lengthAdjust="spacingAndGlyphs">(North)</text>
</g>
<rect shape-rendering="crispEdges" x="708" y="61.00" width="16" height="6.50" fill="#860000"/>
<rect shape-rendering="crispEdges" x="708" y="67.20" width="16" height="6.50" fill="#930000"/>
<rect shape-rendering="crispEdges" x="708" y="73.40" width="16" height="6.50" fill="#9f0000"/>
<rect shape-rendering="crispEdges" x="708" y="79.60" width="16" height="6.50" fill="#ac0000"/>
<rect shape-rendering="crispEdges" x="708" y="85.80" width="16" height="6.50" fill="#b90000"/>
<rect shape-rendering="crispEdges" x="708" y="92.00" width="16" height="6.50" fill="#c60000"/>
<rect shape-rendering="crispEdges" x="708" y="98.20" width="16" height="6.50" fill="#d20000"/>
<rect shape-rendering="crispEdges" x="708" y="104.40" width="16" height="6.50" fill="#df0000"/>
<rect shape-rendering="crispEdges" x="708" y="110.60" width="16" height="6.50" fill="#ec0000"/>
<rect shape-rendering="crispEdges" x="708" y="116.80" width="16" height="6.50" fill="#f90000"/>
<rect shape-rendering="crispEdges" x="708" y="123.00" width="16" height="6.50" fill="#ff0600"/>
<rect shape-rendering="crispEdges" x="708" y="129.20" width="16" height="6.50" fill="#ff1300"/>
<rect shape-rendering="crispEdges" x="708" y="135.40" width="16" height="6.50" fill="#ff2000"/>
<rect shape-rendering="crispEdges" x="708" y="141.60" width="16" height="6.50" fill="#ff2d00"/>
<rect shape-rendering="crispEdges" x="708" y="147.80" width="16" height="6.50" fill="#ff3900"/>
<rect shape-rendering="crispEdges" x="708" y="154.00" width="16" height="6.50" fill="#ff4600"/>
<rect shape-rendering="crispEdges" x="708" y="160.20" width="16" height="6.50" fill="#ff5300"/>
<rect shape-rendering="crispEdges" x="708" y="166.40" width="16" height="6.50" fill="#ff6000"/>
<rect shape-rendering="crispEdges" x="708" y="172.60" width="16" height="6.50" fill="#ff6c00"/>
<rect shape-rendering="crispEdges" x="708" y="178.80" width="16" height="6.50" fill="#ff7900"/>
<rect shape-rendering="crispEdges" x="708" y="185.00" width="16" height="6.50" fill="#ff8600"/>
<rect shape-rendering="crispEdges" x="708" y="191.20" width="16" height="6.50" fill="#ff9300"/>
<rect shape-rendering="crispEdges" x="708" y="197.40" width="16" height="6.50" fill="#ff9f00"/>
<rect shape-rendering="crispEdges" x="708" y="203.60" width="16" height="6.50" fill="#ffac00"/>
<rect shape-rendering="crispEdges" x="708" y="209.80" width="16" height="6.50" fill="#ffb900"/>
<rect shape-rendering="crispEdges" x="708" y="216.00" width="16" height="6.50" fill="#ffc600"/>
<rect shape-rendering="crispEdges" x="708" y="222.20" width="16" height="6.50" fill="#ffd200"/>
<rect shape-rendering="crispEdges" x="708" y="228.40" width="16" height="6.50" fill="#ffdf00"/>
<rect shape-rendering="crispEdges" x="708" y="234.60" width="16" height="6.50" fill="#ffec00"/>
<rect shape-rendering="crispEdges" x="708" y="240.80" width="16" height="6.50" fill="#fff900"/>
<rect shape-rendering="crispEdges" x="708" y="247.00" width="16" height="6.50" fill="#f9ff06"/>
<rect shape-rendering="crispEdges" x="708" y="253.20" width="16" height="6.50" fill="#ecff13"/>
<rect shape-rendering="crispEdges" x="708" y="259.40" width="16" height="6.50" fill="#dfff20"/>
<rect shape-rendering="crispEdges" x="708" y="265.60" width="16" height="6.50" fill="#d2ff2d"/>
<rect shape-rendering="crispEdges" x="708" y="271.80" width="16" height="6.50" fill="#c6ff39"/>
<rect shape-rendering="crispEdges" x="708" y="278.00" width="16" height="6.50" fill="#b9ff46"/>
<rect shape-rendering="crispEdges" x="708" y="284.20" width="16" height="6.50" fill="#acff53"/>
<rect shape-rendering="crispEdges" x="708" y="290.40" width="16" height="6.50" fill="#9fff60"/>
<rect shape-rendering="crispEdges" x="708" y="296.60" width="16" height="6.50" fill="#93ff6c"/>
<rect shape-rendering="crispEdges" x="708" y="302.80" width="16" height="6.50" fill="#86ff79"/>
<rect shape-rendering="crispEdges" x="708" y="309.00" width="16" height="6.50" fill="#79ff86"/>
<rect shape-rendering="crispEdges" x="708" y="315.20" width="16" height="6.50" fill="#6cff93"/>
<rect shape-rendering="crispEdges" x="708" y="321.40" width="16" height="6.50" fill="#60ff9f"/>
<rect shape-rendering="crispEdges" x="708" y="327.60" width="16" height="6.50" fill="#53ffac"/>
<rect shape-rendering="crispEdges" x="708" y="333.80" width="16" height="6.50" fill="#46ffb9"/>
<rect shape-rendering="crispEdges" x="708" y="340.00" width="16" height="6.50" fill="#39ffc6"/>
<rect shape-rendering="crispEdges" x="708" y="346.20" width="16" height="6.50" fill="#2dffd2"/>
<rect shape-rendering="crispEdges" x="708" y="352.40" width="16" height="6.50" fill="#20ffdf"/>
<rect shape-rendering="crispEdges" x="708" y="358.60" width="16" height="6.50" fill="#13ffec"/>
<rect shape-rendering="crispEdges" x="708" y="364.80" width="16" height="6.50" fill="#06fff9"/>
<rect shape-rendering="crispEdges" x="708" y="371.00" width="16" height="6.50" fill="#00f9ff"/>
<rect shape-rendering="crispEdges" x="708" y="377.20" width="16" height="6.50" fill="#00ecff"/>
<rect shape-rendering="crispEdges" x="708" y="383.40" width="16" height="6.50" fill="#00dfff"/>
<rect shape-rendering="crispEdges" x="708" y="389.60" width="16" height="6.50" fill="#00d2ff"/>
<rect shape-rendering="crispEdges" x="708" y="395.80" width="16" height="6.50" fill="#00c6ff"/>
<rect shape-rendering="crispEdges" x="708" y="402.00" width="16" height="6.50" fill="#00b9ff"/>
<rect shape-rendering="crispEdges" x="708" y="408.20" width="16" height="6.50" fill="#00acff"/>
<rect shape-rendering="crispEdges" x="708" y="414.40" width="16" height="6.50" fill="#009fff"/>
<rect shape-rendering="crispEdges" x="708" y="420.60" width="16" height="6.50" fill="#0093ff"/>
<rect shape-rendering="crispEdges" x="708" y="426.80" width="16" height="6.50" fill="#0086ff"/>
<rect shape-rendering="crispEdges" x="708" y="433.00" width="16" height="6.50" fill="#0079ff"/>
<rect shape-rendering="crispEdges" x="708" y="439.20" width="16" height="6.50" fill="#006cff"/>
<rect shape-rendering="crispEdges" x="708" y="445.40" width="16" height="6.50" fill="#0060ff"/>
<rect shape-rendering="crispEdges" x="708" y="451.60" width="16" height="6.50" fill="#0053ff"/>
<rect shape-rendering="crispEdges" x="708" y="457.80" width="16" height="6.50" fill="#0046ff"/>
<rect shape-rendering="crispEdges" x="708" y="464.00" width="16" height="6.50" fill="#0039ff"/>
<rect shape-rendering="crispEdges" x="708" y="470.20" width="16" height="6.50" fill="#002dff"/>
<rect shape-rendering="crispEdges" x="708" y="476.40" width="16" height="6.50" fill="#0020ff"/>
<rect shape-rendering="crispEdges" x="708" y="482.60" width="16" height="6.50" fill="#0013ff"/>
<rect shape-rendering="crispEdges" x="708" y="488.80" width="16" height="6.50" fill="#0006ff"/>
<rect shape-rendering="crispEdges" x="708" y="495.00" width="16" height="6.50" fill="#0000f9"/>
<rect shape-rendering="crispEdges" x="708" y="501.20" width="16" height="6.50" fill="#0000ec"/>
<rect shape-rendering="crispEdges" x="708" y="507.40" width="16" height="6.50" fill="#0000df"/>
<rect shape-rendering="crispEdges" x="708" y="513.60" width="16" height="6.50" fill="#0000d2"/>
<rect shape-rendering="crispEdges" x="708" y="519.80" width="16" height="6.50" fill="#0000c6"/>
<rect shape-rendering="crispEdges" x="708" y="526.00" width="16" height="6.50" fill="#0000b9"/>
<rect shape-rendering="crispEdges" x="708" y="532.20" width="16" height="6.50" fill="#0000ac"/>
<rect shape-rendering="crispEdges" x="708" y="538.40" width="16" height="6.50" fill="#00009f"/>
<rect shape-rendering="crispEdges" x="708" y="544.60" width="16" height="6.50" fill="#000093"/>
<rect shape-rendering="crispEdges" x="708" y="550.80" width="16" height="6.50" fill="#000086"/>
<text x="735.6" y="73.8" font-size="13.6" textLength="28.4" lengthAdjust="spacingAndGlyphs">19.2</text>
<text x="735.6" y="189.8" font-size="13.6" textLength="28.4" lengthAdjust="spacingAndGlyphs">17.9</text>
<text x="735.6" y="311.6" font-size="13.6" textLength="28.4" lengthAdjust="spacingAndGlyphs">16.5</text>
<text x="735.6" y="433.8" font-size="13.6" textLength="28.4" lengthAdjust="spacingAndGlyphs">15.0</text>
<text x="735.6" y="555.6" font-size="13.6" textLength="28.4" lengthAdjust="spacingAndGlyphs">13.6</text>

</svg>
</body></html>
